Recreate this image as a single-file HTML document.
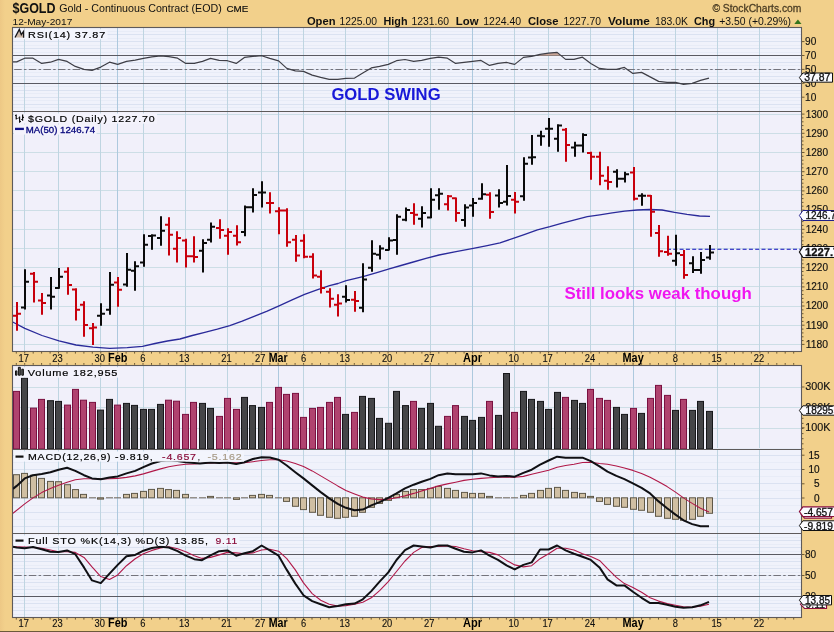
<!DOCTYPE html>
<html><head><meta charset="utf-8"><title>$GOLD</title>
<style>html,body{margin:0;padding:0;background:#F2D08B;}body{width:834px;height:632px;overflow:hidden;font-family:"Liberation Sans",sans-serif;}</style></head>
<body>
<svg width="834" height="632" viewBox="0 0 834 632" style="display:block;will-change:transform" font-family="Liberation Sans, sans-serif">
<defs><linearGradient id="lg" x1="0" x2="1" y1="0" y2="0"><stop offset="0" stop-color="#EDC885"/><stop offset="1" stop-color="#F2D08B"/></linearGradient></defs>
<rect width="834" height="632" fill="#F2D08B"/>
<rect width="5" height="632" fill="url(#lg)"/>
<rect x="0" y="631" width="834" height="1" fill="#6B5A3A"/>
<rect x="12.5" y="27.5" width="789.0" height="84.0" fill="#F0F2FB"/>
<line x1="12.5" x2="801.5" y1="107.50" y2="107.50" stroke="#E8ECF7" stroke-width="1"/>
<line x1="12.5" x2="801.5" y1="100.50" y2="100.50" stroke="#E8ECF7" stroke-width="1"/>
<line x1="12.5" x2="801.5" y1="93.50" y2="93.50" stroke="#E8ECF7" stroke-width="1"/>
<line x1="12.5" x2="801.5" y1="86.50" y2="86.50" stroke="#E8ECF7" stroke-width="1"/>
<line x1="12.5" x2="801.5" y1="79.50" y2="79.50" stroke="#E8ECF7" stroke-width="1"/>
<line x1="12.5" x2="801.5" y1="72.50" y2="72.50" stroke="#E8ECF7" stroke-width="1"/>
<line x1="12.5" x2="801.5" y1="65.50" y2="65.50" stroke="#E8ECF7" stroke-width="1"/>
<line x1="12.5" x2="801.5" y1="58.50" y2="58.50" stroke="#E8ECF7" stroke-width="1"/>
<line x1="12.5" x2="801.5" y1="52.50" y2="52.50" stroke="#E8ECF7" stroke-width="1"/>
<line x1="12.5" x2="801.5" y1="45.50" y2="45.50" stroke="#E8ECF7" stroke-width="1"/>
<line x1="12.5" x2="801.5" y1="38.50" y2="38.50" stroke="#E8ECF7" stroke-width="1"/>
<line x1="12.5" x2="801.5" y1="31.50" y2="31.50" stroke="#E8ECF7" stroke-width="1"/>
<line x1="12.5" x2="801.5" y1="104.50" y2="104.50" stroke="#DBE2F1" stroke-width="1"/>
<line x1="12.5" x2="801.5" y1="97.50" y2="97.50" stroke="#DBE2F1" stroke-width="1"/>
<line x1="12.5" x2="801.5" y1="90.50" y2="90.50" stroke="#DBE2F1" stroke-width="1"/>
<line x1="12.5" x2="801.5" y1="83.50" y2="83.50" stroke="#DBE2F1" stroke-width="1"/>
<line x1="12.5" x2="801.5" y1="76.50" y2="76.50" stroke="#DBE2F1" stroke-width="1"/>
<line x1="12.5" x2="801.5" y1="69.50" y2="69.50" stroke="#DBE2F1" stroke-width="1"/>
<line x1="12.5" x2="801.5" y1="62.50" y2="62.50" stroke="#DBE2F1" stroke-width="1"/>
<line x1="12.5" x2="801.5" y1="55.50" y2="55.50" stroke="#DBE2F1" stroke-width="1"/>
<line x1="12.5" x2="801.5" y1="48.50" y2="48.50" stroke="#DBE2F1" stroke-width="1"/>
<line x1="12.5" x2="801.5" y1="41.50" y2="41.50" stroke="#DBE2F1" stroke-width="1"/>
<line x1="12.5" x2="801.5" y1="34.50" y2="34.50" stroke="#DBE2F1" stroke-width="1"/>
<line x1="12.5" x2="801.5" y1="27.50" y2="27.50" stroke="#DBE2F1" stroke-width="1"/>
<line x1="24.5" x2="24.5" y1="27.5" y2="111.5" stroke="#BFD5E1" stroke-width="1"/>
<line x1="58.5" x2="58.5" y1="27.5" y2="111.5" stroke="#BFD5E1" stroke-width="1"/>
<line x1="100.5" x2="100.5" y1="27.5" y2="111.5" stroke="#BFD5E1" stroke-width="1"/>
<line x1="143.5" x2="143.5" y1="27.5" y2="111.5" stroke="#BFD5E1" stroke-width="1"/>
<line x1="185.5" x2="185.5" y1="27.5" y2="111.5" stroke="#BFD5E1" stroke-width="1"/>
<line x1="227.5" x2="227.5" y1="27.5" y2="111.5" stroke="#BFD5E1" stroke-width="1"/>
<line x1="261.5" x2="261.5" y1="27.5" y2="111.5" stroke="#BFD5E1" stroke-width="1"/>
<line x1="303.5" x2="303.5" y1="27.5" y2="111.5" stroke="#BFD5E1" stroke-width="1"/>
<line x1="345.5" x2="345.5" y1="27.5" y2="111.5" stroke="#BFD5E1" stroke-width="1"/>
<line x1="388.5" x2="388.5" y1="27.5" y2="111.5" stroke="#BFD5E1" stroke-width="1"/>
<line x1="430.5" x2="430.5" y1="27.5" y2="111.5" stroke="#BFD5E1" stroke-width="1"/>
<line x1="472.5" x2="472.5" y1="27.5" y2="111.5" stroke="#ADC9DE" stroke-width="1"/>
<line x1="514.5" x2="514.5" y1="27.5" y2="111.5" stroke="#BFD5E1" stroke-width="1"/>
<line x1="548.5" x2="548.5" y1="27.5" y2="111.5" stroke="#BFD5E1" stroke-width="1"/>
<line x1="590.5" x2="590.5" y1="27.5" y2="111.5" stroke="#BFD5E1" stroke-width="1"/>
<line x1="633.5" x2="633.5" y1="27.5" y2="111.5" stroke="#ADC9DE" stroke-width="1"/>
<line x1="675.5" x2="675.5" y1="27.5" y2="111.5" stroke="#BFD5E1" stroke-width="1"/>
<line x1="717.5" x2="717.5" y1="27.5" y2="111.5" stroke="#BFD5E1" stroke-width="1"/>
<line x1="759.5" x2="759.5" y1="27.5" y2="111.5" stroke="#BFD5E1" stroke-width="1"/>
<line x1="117.5" x2="117.5" y1="27.5" y2="111.5" stroke="#ADC9DE" stroke-width="1"/>
<line x1="278.5" x2="278.5" y1="27.5" y2="111.5" stroke="#ADC9DE" stroke-width="1"/>
<line x1="12.5" x2="801.5" y1="55.50" y2="55.50" stroke="#5A5A62" stroke-width="1.1"/>
<line x1="12.5" x2="801.5" y1="83.50" y2="83.50" stroke="#5A5A62" stroke-width="1.1"/>
<line x1="12.5" x2="801.5" y1="69.50" y2="69.50" stroke="#74747C" stroke-width="1" stroke-dasharray="7.5,2.3,2.5,2.3" stroke-dashoffset="12.9"/>
<polygon points="538,55.6 540.1,54.4 548.6,53.2 557.1,52.4 561,55.6" fill="#C9A596"/>
<polyline points="13.0,61.9 16.7,61.9 24.7,58.2 33.0,58.2 41.7,63.4 50.4,62.2 58.6,59.4 67.1,61.4 75.3,66.4 84.0,69.4 92.0,70.4 100.8,67.1 109.5,62.2 117.7,64.4 126.5,61.4 135.2,60.2 143.4,58.4 151.9,56.9 160.6,55.9 168.8,56.7 177.6,58.2 185.8,63.4 194.3,63.4 202.5,61.4 210.5,58.4 219.2,60.4 227.4,60.7 236.2,63.4 244.4,57.4 252.9,56.4 261.6,55.7 269.8,58.4 278.6,60.9 286.8,68.4 295.3,70.9 303.5,71.4 312.2,75.1 320.7,77.4 329.2,79.4 337.7,79.4 345.9,78.4 354.6,78.1 362.8,73.1 371.3,67.9 379.6,66.4 388.3,64.4 396.5,60.7 405.0,59.5 413.7,61.4 421.7,60.4 430.4,58.4 438.6,57.2 447.4,58.2 455.6,63.4 464.0,62.4 472.6,61.4 481.0,60.4 489.5,65.4 498.0,63.4 506.5,62.4 514.7,64.4 523.4,57.4 531.7,56.4 540.1,54.4 548.6,53.2 557.1,52.4 565.6,59.4 574.0,59.4 582.5,57.2 590.8,63.4 599.5,68.4 607.5,69.4 616.4,69.4 624.4,67.4 632.9,73.4 641.6,72.4 650.1,76.9 658.6,81.4 667.1,82.4 675.5,82.4 683.5,84.4 692.2,83.4 700.5,80.4 709.0,78.2" fill="none" stroke="#3E3E46" stroke-width="1.2" stroke-linejoin="round"/>
<rect x="12.5" y="111.5" width="789.0" height="240.0" fill="#F1F0FA"/>
<line x1="12.5" x2="801.5" y1="344.50" y2="344.50" stroke="#CDDEE6" stroke-width="1"/>
<line x1="12.5" x2="801.5" y1="325.50" y2="325.50" stroke="#CDDEE6" stroke-width="1"/>
<line x1="12.5" x2="801.5" y1="306.50" y2="306.50" stroke="#CDDEE6" stroke-width="1"/>
<line x1="12.5" x2="801.5" y1="286.50" y2="286.50" stroke="#CDDEE6" stroke-width="1"/>
<line x1="12.5" x2="801.5" y1="267.50" y2="267.50" stroke="#CDDEE6" stroke-width="1"/>
<line x1="12.5" x2="801.5" y1="248.50" y2="248.50" stroke="#CDDEE6" stroke-width="1"/>
<line x1="12.5" x2="801.5" y1="229.50" y2="229.50" stroke="#CDDEE6" stroke-width="1"/>
<line x1="12.5" x2="801.5" y1="210.50" y2="210.50" stroke="#CDDEE6" stroke-width="1"/>
<line x1="12.5" x2="801.5" y1="190.50" y2="190.50" stroke="#CDDEE6" stroke-width="1"/>
<line x1="12.5" x2="801.5" y1="171.50" y2="171.50" stroke="#CDDEE6" stroke-width="1"/>
<line x1="12.5" x2="801.5" y1="152.50" y2="152.50" stroke="#CDDEE6" stroke-width="1"/>
<line x1="12.5" x2="801.5" y1="133.50" y2="133.50" stroke="#CDDEE6" stroke-width="1"/>
<line x1="12.5" x2="801.5" y1="114.50" y2="114.50" stroke="#CDDEE6" stroke-width="1"/>
<line x1="24.5" x2="24.5" y1="111.5" y2="351.5" stroke="#BFD5E1" stroke-width="1"/>
<line x1="58.5" x2="58.5" y1="111.5" y2="351.5" stroke="#BFD5E1" stroke-width="1"/>
<line x1="100.5" x2="100.5" y1="111.5" y2="351.5" stroke="#BFD5E1" stroke-width="1"/>
<line x1="143.5" x2="143.5" y1="111.5" y2="351.5" stroke="#BFD5E1" stroke-width="1"/>
<line x1="185.5" x2="185.5" y1="111.5" y2="351.5" stroke="#BFD5E1" stroke-width="1"/>
<line x1="227.5" x2="227.5" y1="111.5" y2="351.5" stroke="#BFD5E1" stroke-width="1"/>
<line x1="261.5" x2="261.5" y1="111.5" y2="351.5" stroke="#BFD5E1" stroke-width="1"/>
<line x1="303.5" x2="303.5" y1="111.5" y2="351.5" stroke="#BFD5E1" stroke-width="1"/>
<line x1="345.5" x2="345.5" y1="111.5" y2="351.5" stroke="#BFD5E1" stroke-width="1"/>
<line x1="388.5" x2="388.5" y1="111.5" y2="351.5" stroke="#BFD5E1" stroke-width="1"/>
<line x1="430.5" x2="430.5" y1="111.5" y2="351.5" stroke="#BFD5E1" stroke-width="1"/>
<line x1="472.5" x2="472.5" y1="111.5" y2="351.5" stroke="#ADC9DE" stroke-width="1"/>
<line x1="514.5" x2="514.5" y1="111.5" y2="351.5" stroke="#BFD5E1" stroke-width="1"/>
<line x1="548.5" x2="548.5" y1="111.5" y2="351.5" stroke="#BFD5E1" stroke-width="1"/>
<line x1="590.5" x2="590.5" y1="111.5" y2="351.5" stroke="#BFD5E1" stroke-width="1"/>
<line x1="633.5" x2="633.5" y1="111.5" y2="351.5" stroke="#ADC9DE" stroke-width="1"/>
<line x1="675.5" x2="675.5" y1="111.5" y2="351.5" stroke="#BFD5E1" stroke-width="1"/>
<line x1="717.5" x2="717.5" y1="111.5" y2="351.5" stroke="#BFD5E1" stroke-width="1"/>
<line x1="759.5" x2="759.5" y1="111.5" y2="351.5" stroke="#BFD5E1" stroke-width="1"/>
<line x1="117.5" x2="117.5" y1="111.5" y2="351.5" stroke="#ADC9DE" stroke-width="1"/>
<line x1="278.5" x2="278.5" y1="111.5" y2="351.5" stroke="#ADC9DE" stroke-width="1"/>
<rect x="12.5" y="365.5" width="789.0" height="84.0" fill="#F1F0FA"/>
<line x1="12.5" x2="801.5" y1="387.50" y2="387.50" stroke="#CDDEE6" stroke-width="1"/>
<line x1="12.5" x2="801.5" y1="407.50" y2="407.50" stroke="#CDDEE6" stroke-width="1"/>
<line x1="12.5" x2="801.5" y1="428.50" y2="428.50" stroke="#CDDEE6" stroke-width="1"/>
<line x1="24.5" x2="24.5" y1="365.5" y2="449.5" stroke="#BFD5E1" stroke-width="1"/>
<line x1="58.5" x2="58.5" y1="365.5" y2="449.5" stroke="#BFD5E1" stroke-width="1"/>
<line x1="100.5" x2="100.5" y1="365.5" y2="449.5" stroke="#BFD5E1" stroke-width="1"/>
<line x1="143.5" x2="143.5" y1="365.5" y2="449.5" stroke="#BFD5E1" stroke-width="1"/>
<line x1="185.5" x2="185.5" y1="365.5" y2="449.5" stroke="#BFD5E1" stroke-width="1"/>
<line x1="227.5" x2="227.5" y1="365.5" y2="449.5" stroke="#BFD5E1" stroke-width="1"/>
<line x1="261.5" x2="261.5" y1="365.5" y2="449.5" stroke="#BFD5E1" stroke-width="1"/>
<line x1="303.5" x2="303.5" y1="365.5" y2="449.5" stroke="#BFD5E1" stroke-width="1"/>
<line x1="345.5" x2="345.5" y1="365.5" y2="449.5" stroke="#BFD5E1" stroke-width="1"/>
<line x1="388.5" x2="388.5" y1="365.5" y2="449.5" stroke="#BFD5E1" stroke-width="1"/>
<line x1="430.5" x2="430.5" y1="365.5" y2="449.5" stroke="#BFD5E1" stroke-width="1"/>
<line x1="472.5" x2="472.5" y1="365.5" y2="449.5" stroke="#ADC9DE" stroke-width="1"/>
<line x1="514.5" x2="514.5" y1="365.5" y2="449.5" stroke="#BFD5E1" stroke-width="1"/>
<line x1="548.5" x2="548.5" y1="365.5" y2="449.5" stroke="#BFD5E1" stroke-width="1"/>
<line x1="590.5" x2="590.5" y1="365.5" y2="449.5" stroke="#BFD5E1" stroke-width="1"/>
<line x1="633.5" x2="633.5" y1="365.5" y2="449.5" stroke="#ADC9DE" stroke-width="1"/>
<line x1="675.5" x2="675.5" y1="365.5" y2="449.5" stroke="#BFD5E1" stroke-width="1"/>
<line x1="717.5" x2="717.5" y1="365.5" y2="449.5" stroke="#BFD5E1" stroke-width="1"/>
<line x1="759.5" x2="759.5" y1="365.5" y2="449.5" stroke="#BFD5E1" stroke-width="1"/>
<line x1="117.5" x2="117.5" y1="365.5" y2="449.5" stroke="#ADC9DE" stroke-width="1"/>
<line x1="278.5" x2="278.5" y1="365.5" y2="449.5" stroke="#ADC9DE" stroke-width="1"/>
<rect x="12.5" y="449.5" width="789.0" height="84.0" fill="#F0F2FB"/>
<line x1="12.5" x2="801.5" y1="533.50" y2="533.50" stroke="#E8ECF7" stroke-width="1"/>
<line x1="12.5" x2="801.5" y1="519.50" y2="519.50" stroke="#E8ECF7" stroke-width="1"/>
<line x1="12.5" x2="801.5" y1="505.50" y2="505.50" stroke="#E8ECF7" stroke-width="1"/>
<line x1="12.5" x2="801.5" y1="490.50" y2="490.50" stroke="#E8ECF7" stroke-width="1"/>
<line x1="12.5" x2="801.5" y1="476.50" y2="476.50" stroke="#E8ECF7" stroke-width="1"/>
<line x1="12.5" x2="801.5" y1="462.50" y2="462.50" stroke="#E8ECF7" stroke-width="1"/>
<line x1="12.5" x2="801.5" y1="448.50" y2="448.50" stroke="#E8ECF7" stroke-width="1"/>
<line x1="12.5" x2="801.5" y1="526.50" y2="526.50" stroke="#DBE2F1" stroke-width="1"/>
<line x1="12.5" x2="801.5" y1="512.50" y2="512.50" stroke="#DBE2F1" stroke-width="1"/>
<line x1="12.5" x2="801.5" y1="498.50" y2="498.50" stroke="#DBE2F1" stroke-width="1"/>
<line x1="12.5" x2="801.5" y1="483.50" y2="483.50" stroke="#DBE2F1" stroke-width="1"/>
<line x1="12.5" x2="801.5" y1="469.50" y2="469.50" stroke="#DBE2F1" stroke-width="1"/>
<line x1="12.5" x2="801.5" y1="455.50" y2="455.50" stroke="#DBE2F1" stroke-width="1"/>
<line x1="24.5" x2="24.5" y1="449.5" y2="533.5" stroke="#BFD5E1" stroke-width="1"/>
<line x1="58.5" x2="58.5" y1="449.5" y2="533.5" stroke="#BFD5E1" stroke-width="1"/>
<line x1="100.5" x2="100.5" y1="449.5" y2="533.5" stroke="#BFD5E1" stroke-width="1"/>
<line x1="143.5" x2="143.5" y1="449.5" y2="533.5" stroke="#BFD5E1" stroke-width="1"/>
<line x1="185.5" x2="185.5" y1="449.5" y2="533.5" stroke="#BFD5E1" stroke-width="1"/>
<line x1="227.5" x2="227.5" y1="449.5" y2="533.5" stroke="#BFD5E1" stroke-width="1"/>
<line x1="261.5" x2="261.5" y1="449.5" y2="533.5" stroke="#BFD5E1" stroke-width="1"/>
<line x1="303.5" x2="303.5" y1="449.5" y2="533.5" stroke="#BFD5E1" stroke-width="1"/>
<line x1="345.5" x2="345.5" y1="449.5" y2="533.5" stroke="#BFD5E1" stroke-width="1"/>
<line x1="388.5" x2="388.5" y1="449.5" y2="533.5" stroke="#BFD5E1" stroke-width="1"/>
<line x1="430.5" x2="430.5" y1="449.5" y2="533.5" stroke="#BFD5E1" stroke-width="1"/>
<line x1="472.5" x2="472.5" y1="449.5" y2="533.5" stroke="#ADC9DE" stroke-width="1"/>
<line x1="514.5" x2="514.5" y1="449.5" y2="533.5" stroke="#BFD5E1" stroke-width="1"/>
<line x1="548.5" x2="548.5" y1="449.5" y2="533.5" stroke="#BFD5E1" stroke-width="1"/>
<line x1="590.5" x2="590.5" y1="449.5" y2="533.5" stroke="#BFD5E1" stroke-width="1"/>
<line x1="633.5" x2="633.5" y1="449.5" y2="533.5" stroke="#ADC9DE" stroke-width="1"/>
<line x1="675.5" x2="675.5" y1="449.5" y2="533.5" stroke="#BFD5E1" stroke-width="1"/>
<line x1="717.5" x2="717.5" y1="449.5" y2="533.5" stroke="#BFD5E1" stroke-width="1"/>
<line x1="759.5" x2="759.5" y1="449.5" y2="533.5" stroke="#BFD5E1" stroke-width="1"/>
<line x1="117.5" x2="117.5" y1="449.5" y2="533.5" stroke="#ADC9DE" stroke-width="1"/>
<line x1="278.5" x2="278.5" y1="449.5" y2="533.5" stroke="#ADC9DE" stroke-width="1"/>
<rect x="12.5" y="533.5" width="789.0" height="84.0" fill="#F0F2FB"/>
<line x1="12.5" x2="801.5" y1="614.50" y2="614.50" stroke="#E8ECF7" stroke-width="1"/>
<line x1="12.5" x2="801.5" y1="607.50" y2="607.50" stroke="#E8ECF7" stroke-width="1"/>
<line x1="12.5" x2="801.5" y1="600.50" y2="600.50" stroke="#E8ECF7" stroke-width="1"/>
<line x1="12.5" x2="801.5" y1="593.50" y2="593.50" stroke="#E8ECF7" stroke-width="1"/>
<line x1="12.5" x2="801.5" y1="586.50" y2="586.50" stroke="#E8ECF7" stroke-width="1"/>
<line x1="12.5" x2="801.5" y1="579.50" y2="579.50" stroke="#E8ECF7" stroke-width="1"/>
<line x1="12.5" x2="801.5" y1="572.50" y2="572.50" stroke="#E8ECF7" stroke-width="1"/>
<line x1="12.5" x2="801.5" y1="565.50" y2="565.50" stroke="#E8ECF7" stroke-width="1"/>
<line x1="12.5" x2="801.5" y1="558.50" y2="558.50" stroke="#E8ECF7" stroke-width="1"/>
<line x1="12.5" x2="801.5" y1="551.50" y2="551.50" stroke="#E8ECF7" stroke-width="1"/>
<line x1="12.5" x2="801.5" y1="544.50" y2="544.50" stroke="#E8ECF7" stroke-width="1"/>
<line x1="12.5" x2="801.5" y1="537.50" y2="537.50" stroke="#E8ECF7" stroke-width="1"/>
<line x1="12.5" x2="801.5" y1="610.50" y2="610.50" stroke="#DBE2F1" stroke-width="1"/>
<line x1="12.5" x2="801.5" y1="603.50" y2="603.50" stroke="#DBE2F1" stroke-width="1"/>
<line x1="12.5" x2="801.5" y1="596.50" y2="596.50" stroke="#DBE2F1" stroke-width="1"/>
<line x1="12.5" x2="801.5" y1="589.50" y2="589.50" stroke="#DBE2F1" stroke-width="1"/>
<line x1="12.5" x2="801.5" y1="582.50" y2="582.50" stroke="#DBE2F1" stroke-width="1"/>
<line x1="12.5" x2="801.5" y1="575.50" y2="575.50" stroke="#DBE2F1" stroke-width="1"/>
<line x1="12.5" x2="801.5" y1="568.50" y2="568.50" stroke="#DBE2F1" stroke-width="1"/>
<line x1="12.5" x2="801.5" y1="561.50" y2="561.50" stroke="#DBE2F1" stroke-width="1"/>
<line x1="12.5" x2="801.5" y1="554.50" y2="554.50" stroke="#DBE2F1" stroke-width="1"/>
<line x1="12.5" x2="801.5" y1="547.50" y2="547.50" stroke="#DBE2F1" stroke-width="1"/>
<line x1="12.5" x2="801.5" y1="540.50" y2="540.50" stroke="#DBE2F1" stroke-width="1"/>
<line x1="24.5" x2="24.5" y1="533.5" y2="617.5" stroke="#BFD5E1" stroke-width="1"/>
<line x1="58.5" x2="58.5" y1="533.5" y2="617.5" stroke="#BFD5E1" stroke-width="1"/>
<line x1="100.5" x2="100.5" y1="533.5" y2="617.5" stroke="#BFD5E1" stroke-width="1"/>
<line x1="143.5" x2="143.5" y1="533.5" y2="617.5" stroke="#BFD5E1" stroke-width="1"/>
<line x1="185.5" x2="185.5" y1="533.5" y2="617.5" stroke="#BFD5E1" stroke-width="1"/>
<line x1="227.5" x2="227.5" y1="533.5" y2="617.5" stroke="#BFD5E1" stroke-width="1"/>
<line x1="261.5" x2="261.5" y1="533.5" y2="617.5" stroke="#BFD5E1" stroke-width="1"/>
<line x1="303.5" x2="303.5" y1="533.5" y2="617.5" stroke="#BFD5E1" stroke-width="1"/>
<line x1="345.5" x2="345.5" y1="533.5" y2="617.5" stroke="#BFD5E1" stroke-width="1"/>
<line x1="388.5" x2="388.5" y1="533.5" y2="617.5" stroke="#BFD5E1" stroke-width="1"/>
<line x1="430.5" x2="430.5" y1="533.5" y2="617.5" stroke="#BFD5E1" stroke-width="1"/>
<line x1="472.5" x2="472.5" y1="533.5" y2="617.5" stroke="#ADC9DE" stroke-width="1"/>
<line x1="514.5" x2="514.5" y1="533.5" y2="617.5" stroke="#BFD5E1" stroke-width="1"/>
<line x1="548.5" x2="548.5" y1="533.5" y2="617.5" stroke="#BFD5E1" stroke-width="1"/>
<line x1="590.5" x2="590.5" y1="533.5" y2="617.5" stroke="#BFD5E1" stroke-width="1"/>
<line x1="633.5" x2="633.5" y1="533.5" y2="617.5" stroke="#ADC9DE" stroke-width="1"/>
<line x1="675.5" x2="675.5" y1="533.5" y2="617.5" stroke="#BFD5E1" stroke-width="1"/>
<line x1="717.5" x2="717.5" y1="533.5" y2="617.5" stroke="#BFD5E1" stroke-width="1"/>
<line x1="759.5" x2="759.5" y1="533.5" y2="617.5" stroke="#BFD5E1" stroke-width="1"/>
<line x1="117.5" x2="117.5" y1="533.5" y2="617.5" stroke="#ADC9DE" stroke-width="1"/>
<line x1="278.5" x2="278.5" y1="533.5" y2="617.5" stroke="#ADC9DE" stroke-width="1"/>
<line x1="12.5" x2="801.5" y1="554.50" y2="554.50" stroke="#5A5A62" stroke-width="1.1"/>
<line x1="12.5" x2="801.5" y1="596.50" y2="596.50" stroke="#5A5A62" stroke-width="1.1"/>
<line x1="12.5" x2="801.5" y1="575.50" y2="575.50" stroke="#74747C" stroke-width="1" stroke-dasharray="7.5,2.3,2.5,2.3" stroke-dashoffset="12.9"/>
<rect x="13.5" y="391.4" width="6" height="57.5" fill="#B0436F" stroke="#7A1040" stroke-width="1"/>
<rect x="21.5" y="378.2" width="6" height="70.7" fill="#454548" stroke="#17171A" stroke-width="1"/>
<rect x="30.5" y="408.1" width="6" height="40.8" fill="#B0436F" stroke="#7A1040" stroke-width="1"/>
<rect x="38.5" y="399.4" width="6" height="49.5" fill="#B0436F" stroke="#7A1040" stroke-width="1"/>
<rect x="47.5" y="400.7" width="6" height="48.2" fill="#454548" stroke="#17171A" stroke-width="1"/>
<rect x="55.5" y="401.4" width="6" height="47.5" fill="#454548" stroke="#17171A" stroke-width="1"/>
<rect x="64.5" y="405.1" width="6" height="43.8" fill="#B0436F" stroke="#7A1040" stroke-width="1"/>
<rect x="72.5" y="389.4" width="6" height="59.5" fill="#B0436F" stroke="#7A1040" stroke-width="1"/>
<rect x="80.5" y="400.2" width="6" height="48.7" fill="#B0436F" stroke="#7A1040" stroke-width="1"/>
<rect x="89.5" y="402.4" width="6" height="46.5" fill="#B0436F" stroke="#7A1040" stroke-width="1"/>
<rect x="97.5" y="410.1" width="6" height="38.8" fill="#454548" stroke="#17171A" stroke-width="1"/>
<rect x="106.5" y="399.4" width="6" height="49.5" fill="#454548" stroke="#17171A" stroke-width="1"/>
<rect x="114.5" y="405.1" width="6" height="43.8" fill="#B0436F" stroke="#7A1040" stroke-width="1"/>
<rect x="123.5" y="403.4" width="6" height="45.5" fill="#454548" stroke="#17171A" stroke-width="1"/>
<rect x="131.5" y="405.4" width="6" height="43.5" fill="#454548" stroke="#17171A" stroke-width="1"/>
<rect x="140.5" y="409.4" width="6" height="39.5" fill="#454548" stroke="#17171A" stroke-width="1"/>
<rect x="148.5" y="409.4" width="6" height="39.5" fill="#454548" stroke="#17171A" stroke-width="1"/>
<rect x="157.5" y="404.4" width="6" height="44.5" fill="#454548" stroke="#17171A" stroke-width="1"/>
<rect x="165.5" y="400.2" width="6" height="48.7" fill="#B0436F" stroke="#7A1040" stroke-width="1"/>
<rect x="173.5" y="401.2" width="6" height="47.7" fill="#B0436F" stroke="#7A1040" stroke-width="1"/>
<rect x="182.5" y="414.4" width="6" height="34.5" fill="#B0436F" stroke="#7A1040" stroke-width="1"/>
<rect x="190.5" y="402.4" width="6" height="46.5" fill="#B0436F" stroke="#7A1040" stroke-width="1"/>
<rect x="199.5" y="403.4" width="6" height="45.5" fill="#454548" stroke="#17171A" stroke-width="1"/>
<rect x="207.5" y="408.4" width="6" height="40.5" fill="#454548" stroke="#17171A" stroke-width="1"/>
<rect x="216.5" y="416.4" width="6" height="32.5" fill="#B0436F" stroke="#7A1040" stroke-width="1"/>
<rect x="224.5" y="398.4" width="6" height="50.5" fill="#B0436F" stroke="#7A1040" stroke-width="1"/>
<rect x="233.5" y="409.4" width="6" height="39.5" fill="#B0436F" stroke="#7A1040" stroke-width="1"/>
<rect x="241.5" y="397.4" width="6" height="51.5" fill="#454548" stroke="#17171A" stroke-width="1"/>
<rect x="249.5" y="405.6" width="6" height="43.3" fill="#454548" stroke="#17171A" stroke-width="1"/>
<rect x="258.5" y="407.4" width="6" height="41.5" fill="#454548" stroke="#17171A" stroke-width="1"/>
<rect x="266.5" y="402.4" width="6" height="46.5" fill="#B0436F" stroke="#7A1040" stroke-width="1"/>
<rect x="275.5" y="387.4" width="6" height="61.5" fill="#B0436F" stroke="#7A1040" stroke-width="1"/>
<rect x="283.5" y="394.4" width="6" height="54.5" fill="#B0436F" stroke="#7A1040" stroke-width="1"/>
<rect x="292.5" y="393.4" width="6" height="55.5" fill="#B0436F" stroke="#7A1040" stroke-width="1"/>
<rect x="300.5" y="417.4" width="6" height="31.5" fill="#B0436F" stroke="#7A1040" stroke-width="1"/>
<rect x="309.5" y="408.4" width="6" height="40.5" fill="#B0436F" stroke="#7A1040" stroke-width="1"/>
<rect x="317.5" y="407.4" width="6" height="41.5" fill="#B0436F" stroke="#7A1040" stroke-width="1"/>
<rect x="326.5" y="402.4" width="6" height="46.5" fill="#B0436F" stroke="#7A1040" stroke-width="1"/>
<rect x="334.5" y="397.4" width="6" height="51.5" fill="#B0436F" stroke="#7A1040" stroke-width="1"/>
<rect x="342.5" y="414.4" width="6" height="34.5" fill="#454548" stroke="#17171A" stroke-width="1"/>
<rect x="351.5" y="412.4" width="6" height="36.5" fill="#B0436F" stroke="#7A1040" stroke-width="1"/>
<rect x="359.5" y="396.4" width="6" height="52.5" fill="#454548" stroke="#17171A" stroke-width="1"/>
<rect x="368.5" y="398.4" width="6" height="50.5" fill="#454548" stroke="#17171A" stroke-width="1"/>
<rect x="376.5" y="418.4" width="6" height="30.5" fill="#454548" stroke="#17171A" stroke-width="1"/>
<rect x="385.5" y="423.3" width="6" height="25.6" fill="#454548" stroke="#17171A" stroke-width="1"/>
<rect x="393.5" y="391.4" width="6" height="57.5" fill="#454548" stroke="#17171A" stroke-width="1"/>
<rect x="402.5" y="405.6" width="6" height="43.3" fill="#454548" stroke="#17171A" stroke-width="1"/>
<rect x="410.5" y="401.4" width="6" height="47.5" fill="#B0436F" stroke="#7A1040" stroke-width="1"/>
<rect x="418.5" y="408.4" width="6" height="40.5" fill="#454548" stroke="#17171A" stroke-width="1"/>
<rect x="427.5" y="403.4" width="6" height="45.5" fill="#454548" stroke="#17171A" stroke-width="1"/>
<rect x="435.5" y="426.3" width="6" height="22.6" fill="#454548" stroke="#17171A" stroke-width="1"/>
<rect x="444.5" y="416.4" width="6" height="32.5" fill="#B0436F" stroke="#7A1040" stroke-width="1"/>
<rect x="452.5" y="405.6" width="6" height="43.3" fill="#B0436F" stroke="#7A1040" stroke-width="1"/>
<rect x="461.5" y="416.4" width="6" height="32.5" fill="#454548" stroke="#17171A" stroke-width="1"/>
<rect x="469.5" y="420.4" width="6" height="28.5" fill="#454548" stroke="#17171A" stroke-width="1"/>
<rect x="478.5" y="417.4" width="6" height="31.5" fill="#454548" stroke="#17171A" stroke-width="1"/>
<rect x="486.5" y="401.4" width="6" height="47.5" fill="#B0436F" stroke="#7A1040" stroke-width="1"/>
<rect x="495.5" y="415.4" width="6" height="33.5" fill="#454548" stroke="#17171A" stroke-width="1"/>
<rect x="503.5" y="373.5" width="6" height="75.4" fill="#454548" stroke="#17171A" stroke-width="1"/>
<rect x="511.5" y="412.4" width="6" height="36.5" fill="#B0436F" stroke="#7A1040" stroke-width="1"/>
<rect x="520.5" y="391.4" width="6" height="57.5" fill="#454548" stroke="#17171A" stroke-width="1"/>
<rect x="528.5" y="399.4" width="6" height="49.5" fill="#454548" stroke="#17171A" stroke-width="1"/>
<rect x="537.5" y="401.4" width="6" height="47.5" fill="#454548" stroke="#17171A" stroke-width="1"/>
<rect x="545.5" y="409.4" width="6" height="39.5" fill="#454548" stroke="#17171A" stroke-width="1"/>
<rect x="554.5" y="392.4" width="6" height="56.5" fill="#454548" stroke="#17171A" stroke-width="1"/>
<rect x="562.5" y="397.4" width="6" height="51.5" fill="#B0436F" stroke="#7A1040" stroke-width="1"/>
<rect x="571.5" y="400.4" width="6" height="48.5" fill="#454548" stroke="#17171A" stroke-width="1"/>
<rect x="579.5" y="403.4" width="6" height="45.5" fill="#454548" stroke="#17171A" stroke-width="1"/>
<rect x="587.5" y="389.4" width="6" height="59.5" fill="#B0436F" stroke="#7A1040" stroke-width="1"/>
<rect x="596.5" y="398.4" width="6" height="50.5" fill="#B0436F" stroke="#7A1040" stroke-width="1"/>
<rect x="604.5" y="400.4" width="6" height="48.5" fill="#B0436F" stroke="#7A1040" stroke-width="1"/>
<rect x="613.5" y="407.4" width="6" height="41.5" fill="#454548" stroke="#17171A" stroke-width="1"/>
<rect x="621.5" y="414.4" width="6" height="34.5" fill="#454548" stroke="#17171A" stroke-width="1"/>
<rect x="630.5" y="408.4" width="6" height="40.5" fill="#B0436F" stroke="#7A1040" stroke-width="1"/>
<rect x="638.5" y="413.4" width="6" height="35.5" fill="#454548" stroke="#17171A" stroke-width="1"/>
<rect x="647.5" y="398.4" width="6" height="50.5" fill="#B0436F" stroke="#7A1040" stroke-width="1"/>
<rect x="655.5" y="385.4" width="6" height="63.5" fill="#B0436F" stroke="#7A1040" stroke-width="1"/>
<rect x="664.5" y="395.4" width="6" height="53.5" fill="#B0436F" stroke="#7A1040" stroke-width="1"/>
<rect x="672.5" y="410.4" width="6" height="38.5" fill="#454548" stroke="#17171A" stroke-width="1"/>
<rect x="680.5" y="399.4" width="6" height="49.5" fill="#B0436F" stroke="#7A1040" stroke-width="1"/>
<rect x="689.5" y="410.4" width="6" height="38.5" fill="#454548" stroke="#17171A" stroke-width="1"/>
<rect x="697.5" y="401.4" width="6" height="47.5" fill="#454548" stroke="#17171A" stroke-width="1"/>
<rect x="706.5" y="411.4" width="6" height="37.5" fill="#454548" stroke="#17171A" stroke-width="1"/>
<rect x="13.5" y="474.7" width="6" height="23.1" fill="#D0BFA3" stroke="#5F5848" stroke-width="1"/>
<rect x="21.5" y="473.4" width="6" height="24.4" fill="#D0BFA3" stroke="#5F5848" stroke-width="1"/>
<rect x="30.5" y="475.2" width="6" height="22.6" fill="#D0BFA3" stroke="#5F5848" stroke-width="1"/>
<rect x="38.5" y="478.4" width="6" height="19.4" fill="#D0BFA3" stroke="#5F5848" stroke-width="1"/>
<rect x="47.5" y="481.4" width="6" height="16.4" fill="#D0BFA3" stroke="#5F5848" stroke-width="1"/>
<rect x="55.5" y="481.7" width="6" height="16.1" fill="#D0BFA3" stroke="#5F5848" stroke-width="1"/>
<rect x="64.5" y="484.7" width="6" height="13.1" fill="#D0BFA3" stroke="#5F5848" stroke-width="1"/>
<rect x="72.5" y="489.6" width="6" height="8.2" fill="#D0BFA3" stroke="#5F5848" stroke-width="1"/>
<rect x="80.5" y="494.4" width="6" height="3.4" fill="#D0BFA3" stroke="#5F5848" stroke-width="1"/>
<line x1="89.0" x2="96.0" y1="497.8" y2="497.8" stroke="#6E675A" stroke-width="1"/>
<rect x="97.5" y="497.8" width="6" height="1.3" fill="#D0BFA3" stroke="#5F5848" stroke-width="1"/>
<line x1="106.0" x2="113.0" y1="497.8" y2="497.8" stroke="#6E675A" stroke-width="1"/>
<line x1="114.0" x2="121.0" y1="497.8" y2="497.8" stroke="#6E675A" stroke-width="1"/>
<rect x="123.5" y="494.4" width="6" height="3.4" fill="#D0BFA3" stroke="#5F5848" stroke-width="1"/>
<rect x="131.5" y="493.4" width="6" height="4.4" fill="#D0BFA3" stroke="#5F5848" stroke-width="1"/>
<rect x="140.5" y="491.4" width="6" height="6.4" fill="#D0BFA3" stroke="#5F5848" stroke-width="1"/>
<rect x="148.5" y="489.4" width="6" height="8.4" fill="#D0BFA3" stroke="#5F5848" stroke-width="1"/>
<rect x="157.5" y="488.4" width="6" height="9.4" fill="#D0BFA3" stroke="#5F5848" stroke-width="1"/>
<rect x="165.5" y="489.6" width="6" height="8.2" fill="#D0BFA3" stroke="#5F5848" stroke-width="1"/>
<rect x="173.5" y="490.4" width="6" height="7.4" fill="#D0BFA3" stroke="#5F5848" stroke-width="1"/>
<rect x="182.5" y="494.4" width="6" height="3.4" fill="#D0BFA3" stroke="#5F5848" stroke-width="1"/>
<line x1="190.0" x2="197.0" y1="497.8" y2="497.8" stroke="#6E675A" stroke-width="1"/>
<line x1="199.0" x2="206.0" y1="497.8" y2="497.8" stroke="#6E675A" stroke-width="1"/>
<rect x="207.5" y="496.4" width="6" height="1.4" fill="#D0BFA3" stroke="#5F5848" stroke-width="1"/>
<line x1="216.0" x2="223.0" y1="497.8" y2="497.8" stroke="#6E675A" stroke-width="1"/>
<line x1="224.0" x2="231.0" y1="497.8" y2="497.8" stroke="#6E675A" stroke-width="1"/>
<rect x="233.5" y="497.8" width="6" height="1.6" fill="#D0BFA3" stroke="#5F5848" stroke-width="1"/>
<line x1="241.0" x2="248.0" y1="497.8" y2="497.8" stroke="#6E675A" stroke-width="1"/>
<rect x="249.5" y="495.4" width="6" height="2.4" fill="#D0BFA3" stroke="#5F5848" stroke-width="1"/>
<rect x="258.5" y="494.4" width="6" height="3.4" fill="#D0BFA3" stroke="#5F5848" stroke-width="1"/>
<rect x="266.5" y="495.4" width="6" height="2.4" fill="#D0BFA3" stroke="#5F5848" stroke-width="1"/>
<line x1="275.0" x2="282.0" y1="497.8" y2="497.8" stroke="#6E675A" stroke-width="1"/>
<rect x="283.5" y="497.8" width="6" height="3.6" fill="#D0BFA3" stroke="#5F5848" stroke-width="1"/>
<rect x="292.5" y="497.8" width="6" height="8.5" fill="#D0BFA3" stroke="#5F5848" stroke-width="1"/>
<rect x="300.5" y="497.8" width="6" height="11.8" fill="#D0BFA3" stroke="#5F5848" stroke-width="1"/>
<rect x="309.5" y="497.8" width="6" height="14.5" fill="#D0BFA3" stroke="#5F5848" stroke-width="1"/>
<rect x="317.5" y="497.8" width="6" height="17.5" fill="#D0BFA3" stroke="#5F5848" stroke-width="1"/>
<rect x="326.5" y="497.8" width="6" height="19.5" fill="#D0BFA3" stroke="#5F5848" stroke-width="1"/>
<rect x="334.5" y="497.8" width="6" height="20.5" fill="#D0BFA3" stroke="#5F5848" stroke-width="1"/>
<rect x="342.5" y="497.8" width="6" height="19.5" fill="#D0BFA3" stroke="#5F5848" stroke-width="1"/>
<rect x="351.5" y="497.8" width="6" height="18.5" fill="#D0BFA3" stroke="#5F5848" stroke-width="1"/>
<rect x="359.5" y="497.8" width="6" height="14.5" fill="#D0BFA3" stroke="#5F5848" stroke-width="1"/>
<rect x="368.5" y="497.8" width="6" height="9.5" fill="#D0BFA3" stroke="#5F5848" stroke-width="1"/>
<rect x="376.5" y="497.8" width="6" height="5.6" fill="#D0BFA3" stroke="#5F5848" stroke-width="1"/>
<rect x="385.5" y="497.8" width="6" height="2.6" fill="#D0BFA3" stroke="#5F5848" stroke-width="1"/>
<rect x="393.5" y="494.4" width="6" height="3.4" fill="#D0BFA3" stroke="#5F5848" stroke-width="1"/>
<rect x="402.5" y="491.4" width="6" height="6.4" fill="#D0BFA3" stroke="#5F5848" stroke-width="1"/>
<rect x="410.5" y="489.6" width="6" height="8.2" fill="#D0BFA3" stroke="#5F5848" stroke-width="1"/>
<rect x="418.5" y="489.6" width="6" height="8.2" fill="#D0BFA3" stroke="#5F5848" stroke-width="1"/>
<rect x="427.5" y="488.4" width="6" height="9.4" fill="#D0BFA3" stroke="#5F5848" stroke-width="1"/>
<rect x="435.5" y="486.4" width="6" height="11.4" fill="#D0BFA3" stroke="#5F5848" stroke-width="1"/>
<rect x="444.5" y="488.4" width="6" height="9.4" fill="#D0BFA3" stroke="#5F5848" stroke-width="1"/>
<rect x="452.5" y="490.4" width="6" height="7.4" fill="#D0BFA3" stroke="#5F5848" stroke-width="1"/>
<rect x="461.5" y="492.4" width="6" height="5.4" fill="#D0BFA3" stroke="#5F5848" stroke-width="1"/>
<rect x="469.5" y="493.4" width="6" height="4.4" fill="#D0BFA3" stroke="#5F5848" stroke-width="1"/>
<rect x="478.5" y="493.4" width="6" height="4.4" fill="#D0BFA3" stroke="#5F5848" stroke-width="1"/>
<rect x="486.5" y="496.4" width="6" height="1.4" fill="#D0BFA3" stroke="#5F5848" stroke-width="1"/>
<line x1="495.0" x2="502.0" y1="497.8" y2="497.8" stroke="#6E675A" stroke-width="1"/>
<line x1="503.0" x2="510.0" y1="497.8" y2="497.8" stroke="#6E675A" stroke-width="1"/>
<line x1="511.0" x2="518.0" y1="497.8" y2="497.8" stroke="#6E675A" stroke-width="1"/>
<rect x="520.5" y="495.4" width="6" height="2.4" fill="#D0BFA3" stroke="#5F5848" stroke-width="1"/>
<rect x="528.5" y="493.4" width="6" height="4.4" fill="#D0BFA3" stroke="#5F5848" stroke-width="1"/>
<rect x="537.5" y="490.4" width="6" height="7.4" fill="#D0BFA3" stroke="#5F5848" stroke-width="1"/>
<rect x="545.5" y="488.4" width="6" height="9.4" fill="#D0BFA3" stroke="#5F5848" stroke-width="1"/>
<rect x="554.5" y="487.4" width="6" height="10.4" fill="#D0BFA3" stroke="#5F5848" stroke-width="1"/>
<rect x="562.5" y="490.4" width="6" height="7.4" fill="#D0BFA3" stroke="#5F5848" stroke-width="1"/>
<rect x="571.5" y="492.4" width="6" height="5.4" fill="#D0BFA3" stroke="#5F5848" stroke-width="1"/>
<rect x="579.5" y="493.4" width="6" height="4.4" fill="#D0BFA3" stroke="#5F5848" stroke-width="1"/>
<rect x="587.5" y="496.4" width="6" height="1.4" fill="#D0BFA3" stroke="#5F5848" stroke-width="1"/>
<rect x="596.5" y="497.8" width="6" height="3.6" fill="#D0BFA3" stroke="#5F5848" stroke-width="1"/>
<rect x="604.5" y="497.8" width="6" height="6.6" fill="#D0BFA3" stroke="#5F5848" stroke-width="1"/>
<rect x="613.5" y="497.8" width="6" height="8.5" fill="#D0BFA3" stroke="#5F5848" stroke-width="1"/>
<rect x="621.5" y="497.8" width="6" height="9.5" fill="#D0BFA3" stroke="#5F5848" stroke-width="1"/>
<rect x="630.5" y="497.8" width="6" height="11.5" fill="#D0BFA3" stroke="#5F5848" stroke-width="1"/>
<rect x="638.5" y="497.8" width="6" height="12.5" fill="#D0BFA3" stroke="#5F5848" stroke-width="1"/>
<rect x="647.5" y="497.8" width="6" height="14.5" fill="#D0BFA3" stroke="#5F5848" stroke-width="1"/>
<rect x="655.5" y="497.8" width="6" height="18.5" fill="#D0BFA3" stroke="#5F5848" stroke-width="1"/>
<rect x="664.5" y="497.8" width="6" height="20.5" fill="#D0BFA3" stroke="#5F5848" stroke-width="1"/>
<rect x="672.5" y="497.8" width="6" height="21.5" fill="#D0BFA3" stroke="#5F5848" stroke-width="1"/>
<rect x="680.5" y="497.8" width="6" height="22.5" fill="#D0BFA3" stroke="#5F5848" stroke-width="1"/>
<rect x="689.5" y="497.8" width="6" height="21.5" fill="#D0BFA3" stroke="#5F5848" stroke-width="1"/>
<rect x="697.5" y="497.8" width="6" height="18.5" fill="#D0BFA3" stroke="#5F5848" stroke-width="1"/>
<rect x="706.5" y="497.8" width="6" height="15.5" fill="#D0BFA3" stroke="#5F5848" stroke-width="1"/>
<polyline points="13.0,513.3 24.7,503.9 33.0,497.9 41.7,492.6 50.4,488.4 58.6,485.2 67.1,482.2 75.3,479.7 84.0,478.7 92.0,478.7 100.8,478.9 109.5,478.7 117.7,478.4 126.5,477.4 135.2,475.9 143.4,473.9 151.9,471.4 160.6,468.9 168.8,466.7 177.6,465.2 185.8,464.2 194.3,464.0 200.0,463.5 210.5,463.0 219.2,462.7 227.4,462.7 236.2,462.7 244.4,462.7 252.9,461.7 261.6,460.5 269.8,459.7 278.6,459.7 286.8,461.0 295.3,463.5 303.5,466.4 312.2,470.9 320.7,475.9 329.2,480.9 337.7,485.9 345.9,490.4 354.6,493.9 362.8,497.1 371.3,498.9 379.6,499.6 388.3,499.1 396.5,497.7 405.0,495.9 413.7,493.4 421.7,490.9 430.4,488.4 438.6,485.9 447.4,483.9 455.6,482.2 464.0,480.4 472.6,479.2 481.0,478.4 489.5,477.7 498.0,477.2 506.5,477.2 514.7,477.2 523.4,476.4 531.7,474.2 540.1,472.2 548.6,470.2 557.1,467.2 565.6,465.5 574.0,464.2 582.5,462.5 590.8,462.2 599.5,463.5 607.5,464.2 616.4,466.0 624.4,468.0 632.9,470.4 641.6,473.4 650.1,477.2 658.6,481.7 667.1,486.6 675.5,492.1 683.5,497.9 692.2,503.4 700.5,508.3 709.0,512.1" fill="none" stroke="#B01848" stroke-width="1.1" stroke-linejoin="round"/>
<polyline points="13.0,488.9 16.7,485.9 24.7,478.4 33.0,475.2 41.7,473.9 50.4,472.2 58.6,469.7 67.1,467.7 75.3,470.9 84.0,475.2 92.0,478.4 100.8,479.2 109.5,477.4 117.7,476.4 126.5,473.4 135.2,470.9 143.4,467.2 151.9,463.5 160.6,461.0 168.8,460.2 177.6,461.0 185.8,462.2 194.3,463.0 200.0,463.5 210.5,462.5 219.2,463.0 227.4,462.5 236.2,464.0 244.4,462.2 252.9,459.0 261.6,457.2 269.8,457.5 278.6,459.7 286.8,465.5 295.3,472.2 303.5,478.4 312.2,485.4 320.7,492.1 329.2,498.4 337.7,503.9 345.9,507.8 354.6,510.3 362.8,509.6 371.3,505.4 379.6,502.1 388.3,497.9 396.5,493.4 405.0,488.4 413.7,484.7 421.7,481.7 430.4,478.9 438.6,475.2 447.4,473.4 455.6,474.2 464.0,474.2 472.6,474.2 481.0,473.4 489.5,475.4 498.0,476.4 506.5,475.9 514.7,476.7 523.4,472.9 531.7,469.7 540.1,464.7 548.6,460.5 557.1,456.7 565.6,457.7 574.0,457.7 582.5,457.7 590.8,461.2 599.5,466.4 607.5,471.7 616.4,475.9 624.4,479.2 632.9,483.4 641.6,487.9 650.1,493.4 658.6,501.4 667.1,508.3 675.5,514.6 683.5,520.3 692.2,524.1 700.5,526.3 709.0,526.3" fill="none" stroke="#101014" stroke-width="2" stroke-linejoin="round"/>
<polyline points="13.0,546.7 24.7,547.0 33.0,547.5 41.7,548.2 50.4,550.0 58.6,551.7 67.1,551.7 75.3,552.4 84.0,557.4 92.0,566.9 100.8,576.6 109.5,579.4 117.7,574.9 126.5,565.7 135.2,558.7 143.4,553.7 151.9,550.4 160.6,548.0 168.8,546.7 177.6,548.7 185.8,551.7 194.3,555.7 202.0,558.4 210.5,557.4 219.2,554.9 227.4,552.4 236.2,552.9 244.4,553.7 252.9,552.9 261.6,550.0 269.8,549.2 278.6,551.2 286.8,558.7 295.3,569.9 303.5,582.9 312.2,593.6 320.7,600.3 329.2,604.3 337.7,606.1 345.9,605.6 354.6,604.3 362.8,602.3 371.3,597.8 379.6,590.6 388.3,581.6 396.5,571.5 405.0,561.0 413.7,552.4 421.7,547.5 430.4,546.5 438.6,546.5 447.4,546.0 455.6,546.5 464.0,548.7 472.6,550.7 481.0,551.7 489.5,552.4 498.0,554.9 506.5,560.4 514.7,564.9 523.4,566.9 531.7,565.7 540.1,558.7 548.6,553.7 557.1,548.2 565.6,548.2 574.0,550.0 582.5,553.7 590.8,556.4 599.5,560.4 607.5,568.7 616.4,577.4 624.4,583.6 632.9,587.4 641.6,592.3 650.1,597.8 658.6,601.1 667.1,603.6 675.5,605.3 683.5,606.8 692.2,607.3 700.5,606.1 709.0,604.3" fill="none" stroke="#B01848" stroke-width="1.1" stroke-linejoin="round"/>
<polyline points="13.0,546.7 16.7,547.5 24.7,548.2 33.0,547.0 41.7,549.2 50.4,551.7 58.6,551.9 67.1,550.4 75.3,554.2 84.0,567.4 92.0,580.4 100.8,583.1 109.5,573.6 117.7,564.9 126.5,556.2 135.2,554.9 143.4,550.7 151.9,548.0 160.6,546.7 168.8,547.5 177.6,551.2 185.8,555.7 194.3,559.2 202.0,560.2 210.5,555.4 219.2,551.2 227.4,550.4 236.2,555.7 244.4,553.2 252.9,551.2 261.6,545.5 269.8,550.4 278.6,555.7 286.8,569.9 295.3,583.6 303.5,595.3 312.2,601.1 320.7,604.3 329.2,607.3 337.7,606.1 345.9,604.3 354.6,603.6 362.8,599.3 371.3,591.1 379.6,581.6 388.3,572.4 396.5,560.0 405.0,550.2 413.7,545.5 421.7,546.5 430.4,547.5 438.6,545.5 447.4,545.5 455.6,548.7 464.0,551.7 472.6,552.4 481.0,550.4 489.5,555.7 498.0,559.9 506.5,565.4 514.7,569.4 523.4,564.9 531.7,562.4 540.1,549.5 548.6,549.5 557.1,545.5 565.6,550.4 574.0,553.7 582.5,556.7 590.8,559.9 599.5,567.4 607.5,579.4 616.4,585.4 624.4,585.4 632.9,591.8 641.6,597.8 650.1,603.1 658.6,603.1 667.1,604.8 675.5,606.8 683.5,607.8 692.2,607.3 700.5,605.3 709.0,601.8" fill="none" stroke="#101014" stroke-width="2" stroke-linejoin="round"/>
<polyline points="12.7,322.0 24.8,328.3 42.0,335.5 59.0,340.8 76.0,345.0 93.0,347.2 109.8,348.3 127.2,347.6 142.5,346.3 155.0,343.5 167.4,341.0 179.9,339.0 192.3,335.5 204.8,332.3 217.3,329.1 229.8,325.6 242.2,321.1 254.7,316.1 267.2,311.1 279.6,305.6 292.1,299.9 304.6,294.4 317.0,289.9 329.5,285.7 338.0,283.5 346.2,280.6 363.0,276.7 376.0,272.8 389.2,268.8 401.0,265.5 413.3,262.0 426.0,258.4 439.0,255.0 456.0,251.6 473.3,248.3 486.0,245.8 500.0,242.9 512.5,238.6 524.9,234.3 537.4,229.9 549.9,226.7 562.3,223.2 574.8,219.9 587.3,216.7 599.8,214.9 612.2,212.9 624.7,211.2 637.2,210.0 649.6,209.5 662.1,210.0 674.6,212.4 687.0,214.4 699.5,216.0 710.0,216.3" fill="none" stroke="#2A2A9A" stroke-width="1.3" stroke-linejoin="round"/>
<line x1="667" x2="801" y1="249.2" y2="249.2" stroke="#0E0EBC" stroke-width="1.15" stroke-dasharray="4,2.3"/>
<path d="M17 302.0V330.8M13 315.8H17M17 313.8H21" stroke="#C8000C" stroke-width="2" fill="none"/>
<path d="M25 269.2V309.5M21 307.5H25M25 281.7H29" stroke="#0A0A0A" stroke-width="2" fill="none"/>
<path d="M34 272.0V302.5M30 273.8H34M34 281.7H38" stroke="#C8000C" stroke-width="2" fill="none"/>
<path d="M42 293.0V314.7M38 300.5H42M42 303.0H46" stroke="#C8000C" stroke-width="2" fill="none"/>
<path d="M51 277.0V309.5M47 295.5H51M51 296.7H55" stroke="#0A0A0A" stroke-width="2" fill="none"/>
<path d="M59 268.0V288.7M55 288.0H59M59 276.7H63" stroke="#0A0A0A" stroke-width="2" fill="none"/>
<path d="M68 267.2V294.7M64 271.7H68M68 285.0H72" stroke="#C8000C" stroke-width="2" fill="none"/>
<path d="M76 288.3V320.5M72 289.5H76M76 309.7H80" stroke="#C8000C" stroke-width="2" fill="none"/>
<path d="M84 301.2V336.7M80 304.7H84M84 325.0H88" stroke="#C8000C" stroke-width="2" fill="none"/>
<path d="M93 323.0V345.0M89 328.3H93M93 327.5H97" stroke="#C8000C" stroke-width="2" fill="none"/>
<path d="M101 303.3V325.8M97 315.8H101M101 313.7H105" stroke="#0A0A0A" stroke-width="2" fill="none"/>
<path d="M110 272.0V314.7M106 309.7H110M110 284.7H114" stroke="#0A0A0A" stroke-width="2" fill="none"/>
<path d="M118 277.0V306.7M114 282.5H118M118 289.7H122" stroke="#C8000C" stroke-width="2" fill="none"/>
<path d="M127 253.0V286.7M123 284.5H127M127 269.7H131" stroke="#0A0A0A" stroke-width="2" fill="none"/>
<path d="M135 261.3V290.8M131 270.8H135M135 266.3H139" stroke="#0A0A0A" stroke-width="2" fill="none"/>
<path d="M144 234.2V266.7M140 262.5H144M144 244.7H148" stroke="#0A0A0A" stroke-width="2" fill="none"/>
<path d="M152 234.2V249.7M148 236.0H152M152 235.5H156" stroke="#0A0A0A" stroke-width="2" fill="none"/>
<path d="M161 216.2V245.8M157 238.0H161M161 230.8H165" stroke="#0A0A0A" stroke-width="2" fill="none"/>
<path d="M169 217.2V255.5M165 224.7H169M169 234.7H173" stroke="#C8000C" stroke-width="2" fill="none"/>
<path d="M177 231.3V262.5M173 248.8H177M177 238.0H181" stroke="#C8000C" stroke-width="2" fill="none"/>
<path d="M186 238.7V267.5M182 240.5H186M186 256.3H190" stroke="#C8000C" stroke-width="2" fill="none"/>
<path d="M194 236.3V262.5M190 256.3H194M194 257.0H198" stroke="#C8000C" stroke-width="2" fill="none"/>
<path d="M203 239.2V272.5M199 250.8H203M203 243.0H207" stroke="#0A0A0A" stroke-width="2" fill="none"/>
<path d="M211 222.5V242.5M207 239.7H211M211 226.7H215" stroke="#0A0A0A" stroke-width="2" fill="none"/>
<path d="M220 219.2V238.7M216 228.0H220M220 230.0H224" stroke="#C8000C" stroke-width="2" fill="none"/>
<path d="M228 228.3V254.7M224 235.8H228M228 232.0H232" stroke="#C8000C" stroke-width="2" fill="none"/>
<path d="M237 225.3V245.5M233 235.8H237M237 242.2H241" stroke="#C8000C" stroke-width="2" fill="none"/>
<path d="M245 205.5V236.3M241 232.0H245M245 207.2H249" stroke="#0A0A0A" stroke-width="2" fill="none"/>
<path d="M253 188.3V212.5M249 207.2H253M253 195.0H257" stroke="#0A0A0A" stroke-width="2" fill="none"/>
<path d="M262 181.3V207.5M258 192.5H262M262 192.5H266" stroke="#0A0A0A" stroke-width="2" fill="none"/>
<path d="M270 192.2V213.5M266 203.0H270M270 203.0H274" stroke="#C8000C" stroke-width="2" fill="none"/>
<path d="M279 207.2V234.2M275 211.3H279M279 210.5H283" stroke="#C8000C" stroke-width="2" fill="none"/>
<path d="M287 208.3V246.7M283 210.5H287M287 242.2H291" stroke="#C8000C" stroke-width="2" fill="none"/>
<path d="M296 235.0V261.7M292 239.7H296M296 255.5H300" stroke="#C8000C" stroke-width="2" fill="none"/>
<path d="M304 234.2V258.3M300 240.8H304M304 256.7H308" stroke="#C8000C" stroke-width="2" fill="none"/>
<path d="M313 253.2V278.5M309 256.7H313M313 275.4H317" stroke="#C8000C" stroke-width="2" fill="none"/>
<path d="M321 270.2V293.5M317 276.8H321M321 288.0H325" stroke="#C8000C" stroke-width="2" fill="none"/>
<path d="M330 288.2V307.5M326 291.8H330M330 298.7H334" stroke="#C8000C" stroke-width="2" fill="none"/>
<path d="M338 294.2V316.6M334 304.7H338M338 303.6H342" stroke="#C8000C" stroke-width="2" fill="none"/>
<path d="M346 285.2V302.6M342 296.8H346M346 300.0H350" stroke="#0A0A0A" stroke-width="2" fill="none"/>
<path d="M355 291.0V311.8M351 299.7H355M355 300.9H359" stroke="#C8000C" stroke-width="2" fill="none"/>
<path d="M363 263.3V312.3M359 307.8H363M363 279.6H367" stroke="#0A0A0A" stroke-width="2" fill="none"/>
<path d="M372 240.3V271.7M368 267.8H372M372 253.8H376" stroke="#0A0A0A" stroke-width="2" fill="none"/>
<path d="M380 245.2V259.5M376 254.8H380M380 248.6H384" stroke="#0A0A0A" stroke-width="2" fill="none"/>
<path d="M389 237.2V250.5M385 250.0H389M389 240.4H393" stroke="#0A0A0A" stroke-width="2" fill="none"/>
<path d="M397 214.2V254.7M393 240.0H397M397 216.7H401" stroke="#0A0A0A" stroke-width="2" fill="none"/>
<path d="M406 207.5V221.3M402 219.7H406M406 210.0H410" stroke="#0A0A0A" stroke-width="2" fill="none"/>
<path d="M414 203.3V224.7M410 213.0H414M414 214.7H418" stroke="#C8000C" stroke-width="2" fill="none"/>
<path d="M422 206.3V227.5M418 218.7H422M422 213.0H426" stroke="#0A0A0A" stroke-width="2" fill="none"/>
<path d="M431 188.3V218.3M427 217.5H431M431 199.7H435" stroke="#0A0A0A" stroke-width="2" fill="none"/>
<path d="M439 188.3V209.7M435 195.3H439M439 193.8H443" stroke="#0A0A0A" stroke-width="2" fill="none"/>
<path d="M448 195.0V210.5M444 204.2H448M448 196.3H452" stroke="#C8000C" stroke-width="2" fill="none"/>
<path d="M456 197.5V221.7M452 198.3H456M456 213.0H460" stroke="#C8000C" stroke-width="2" fill="none"/>
<path d="M465 204.2V226.7M461 220.0H465M465 207.5H469" stroke="#0A0A0A" stroke-width="2" fill="none"/>
<path d="M473 198.0V216.7M469 205.5H473M473 203.0H477" stroke="#0A0A0A" stroke-width="2" fill="none"/>
<path d="M482 183.3V199.7M478 198.8H482M482 194.2H486" stroke="#0A0A0A" stroke-width="2" fill="none"/>
<path d="M490 192.2V218.7M486 194.7H490M490 212.0H494" stroke="#C8000C" stroke-width="2" fill="none"/>
<path d="M499 189.2V207.5M495 195.5H499M499 203.0H503" stroke="#0A0A0A" stroke-width="2" fill="none"/>
<path d="M507 165.0V205.5M503 201.7H507M507 196.0H511" stroke="#0A0A0A" stroke-width="2" fill="none"/>
<path d="M515 191.9V213.5M511 199.8H515M515 201.7H519" stroke="#C8000C" stroke-width="2" fill="none"/>
<path d="M524 157.2V200.8M520 196.3H524M524 163.7H528" stroke="#0A0A0A" stroke-width="2" fill="none"/>
<path d="M532 135.0V164.7M528 157.5H532M532 157.2H536" stroke="#0A0A0A" stroke-width="2" fill="none"/>
<path d="M541 130.8V145.8M537 135.8H541M541 136.3H545" stroke="#0A0A0A" stroke-width="2" fill="none"/>
<path d="M549 118.0V146.7M545 128.7H549M549 128.7H553" stroke="#0A0A0A" stroke-width="2" fill="none"/>
<path d="M558 124.2V151.7M554 138.8H558M558 125.5H562" stroke="#0A0A0A" stroke-width="2" fill="none"/>
<path d="M566 128.0V161.7M562 129.7H566M566 145.0H570" stroke="#C8000C" stroke-width="2" fill="none"/>
<path d="M575 141.7V156.7M571 147.5H575M575 145.5H579" stroke="#0A0A0A" stroke-width="2" fill="none"/>
<path d="M583 133.3V152.5M579 145.5H583M583 135.0H587" stroke="#0A0A0A" stroke-width="2" fill="none"/>
<path d="M591 151.7V179.7M587 153.0H591M591 156.7H595" stroke="#C8000C" stroke-width="2" fill="none"/>
<path d="M600 151.7V185.3M596 156.7H600M600 175.8H604" stroke="#C8000C" stroke-width="2" fill="none"/>
<path d="M608 166.3V189.7M604 180.8H608M608 182.0H612" stroke="#C8000C" stroke-width="2" fill="none"/>
<path d="M617 169.2V187.5M613 171.7H617M617 178.7H621" stroke="#0A0A0A" stroke-width="2" fill="none"/>
<path d="M625 171.7V182.5M621 178.7H625M625 174.2H629" stroke="#0A0A0A" stroke-width="2" fill="none"/>
<path d="M634 167.0V200.6M630 172.5H634M634 198.7H638" stroke="#C8000C" stroke-width="2" fill="none"/>
<path d="M642 193.3V205.8M638 195.8H642M642 195.8H646" stroke="#0A0A0A" stroke-width="2" fill="none"/>
<path d="M651 195.0V236.7M647 195.8H651M651 211.7H655" stroke="#C8000C" stroke-width="2" fill="none"/>
<path d="M659 225.0V256.7M655 233.0H659M659 251.3H663" stroke="#C8000C" stroke-width="2" fill="none"/>
<path d="M668 235.8V255.8M664 252.0H668M668 253.7H672" stroke="#C8000C" stroke-width="2" fill="none"/>
<path d="M676 234.7V265.8M672 260.8H676M676 253.3H680" stroke="#0A0A0A" stroke-width="2" fill="none"/>
<path d="M684 250.0V278.8M680 255.0H684M684 275.0H688" stroke="#C8000C" stroke-width="2" fill="none"/>
<path d="M693 256.3V273.0M689 263.3H693M693 270.0H697" stroke="#0A0A0A" stroke-width="2" fill="none"/>
<path d="M701 252.0V273.7M697 270.0H701M701 260.0H705" stroke="#0A0A0A" stroke-width="2" fill="none"/>
<path d="M710 245.0V259.7M706 257.5H710M710 252.5H714" stroke="#0A0A0A" stroke-width="2" fill="none"/>
<rect x="12.5" y="27.5" width="789.0" height="324.0" fill="none" stroke="#5E5A5A" stroke-width="1.1"/>
<line x1="12.5" x2="801.5" y1="111.5" y2="111.5" stroke="#5E5A5A" stroke-width="1.1"/>
<rect x="12.5" y="365.5" width="789.0" height="252.0" fill="none" stroke="#5E5A5A" stroke-width="1.1"/>
<line x1="12.5" x2="801.5" y1="449.5" y2="449.5" stroke="#5E5A5A" stroke-width="1.1"/>
<line x1="12.5" x2="801.5" y1="533.5" y2="533.5" stroke="#5E5A5A" stroke-width="1.1"/>
<line x1="16.3" x2="16.3" y1="351.8" y2="353.6" stroke="#6E5A34" stroke-width="1"/>
<line x1="16.3" x2="16.3" y1="363" y2="364.8" stroke="#6E5A34" stroke-width="1"/>
<line x1="16.3" x2="16.3" y1="617.8" y2="619.6" stroke="#6E5A34" stroke-width="1"/>
<line x1="24.7" x2="24.7" y1="351.8" y2="353.6" stroke="#6E5A34" stroke-width="1"/>
<line x1="24.7" x2="24.7" y1="363" y2="364.8" stroke="#6E5A34" stroke-width="1"/>
<line x1="24.7" x2="24.7" y1="617.8" y2="619.6" stroke="#6E5A34" stroke-width="1"/>
<line x1="33.2" x2="33.2" y1="351.8" y2="353.6" stroke="#6E5A34" stroke-width="1"/>
<line x1="33.2" x2="33.2" y1="363" y2="364.8" stroke="#6E5A34" stroke-width="1"/>
<line x1="33.2" x2="33.2" y1="617.8" y2="619.6" stroke="#6E5A34" stroke-width="1"/>
<line x1="41.6" x2="41.6" y1="351.8" y2="353.6" stroke="#6E5A34" stroke-width="1"/>
<line x1="41.6" x2="41.6" y1="363" y2="364.8" stroke="#6E5A34" stroke-width="1"/>
<line x1="41.6" x2="41.6" y1="617.8" y2="619.6" stroke="#6E5A34" stroke-width="1"/>
<line x1="50.1" x2="50.1" y1="351.8" y2="353.6" stroke="#6E5A34" stroke-width="1"/>
<line x1="50.1" x2="50.1" y1="363" y2="364.8" stroke="#6E5A34" stroke-width="1"/>
<line x1="50.1" x2="50.1" y1="617.8" y2="619.6" stroke="#6E5A34" stroke-width="1"/>
<line x1="58.5" x2="58.5" y1="351.8" y2="353.6" stroke="#6E5A34" stroke-width="1"/>
<line x1="58.5" x2="58.5" y1="363" y2="364.8" stroke="#6E5A34" stroke-width="1"/>
<line x1="58.5" x2="58.5" y1="617.8" y2="619.6" stroke="#6E5A34" stroke-width="1"/>
<line x1="67.0" x2="67.0" y1="351.8" y2="353.6" stroke="#6E5A34" stroke-width="1"/>
<line x1="67.0" x2="67.0" y1="363" y2="364.8" stroke="#6E5A34" stroke-width="1"/>
<line x1="67.0" x2="67.0" y1="617.8" y2="619.6" stroke="#6E5A34" stroke-width="1"/>
<line x1="75.4" x2="75.4" y1="351.8" y2="353.6" stroke="#6E5A34" stroke-width="1"/>
<line x1="75.4" x2="75.4" y1="363" y2="364.8" stroke="#6E5A34" stroke-width="1"/>
<line x1="75.4" x2="75.4" y1="617.8" y2="619.6" stroke="#6E5A34" stroke-width="1"/>
<line x1="83.9" x2="83.9" y1="351.8" y2="353.6" stroke="#6E5A34" stroke-width="1"/>
<line x1="83.9" x2="83.9" y1="363" y2="364.8" stroke="#6E5A34" stroke-width="1"/>
<line x1="83.9" x2="83.9" y1="617.8" y2="619.6" stroke="#6E5A34" stroke-width="1"/>
<line x1="92.3" x2="92.3" y1="351.8" y2="353.6" stroke="#6E5A34" stroke-width="1"/>
<line x1="92.3" x2="92.3" y1="363" y2="364.8" stroke="#6E5A34" stroke-width="1"/>
<line x1="92.3" x2="92.3" y1="617.8" y2="619.6" stroke="#6E5A34" stroke-width="1"/>
<line x1="100.8" x2="100.8" y1="351.8" y2="353.6" stroke="#6E5A34" stroke-width="1"/>
<line x1="100.8" x2="100.8" y1="363" y2="364.8" stroke="#6E5A34" stroke-width="1"/>
<line x1="100.8" x2="100.8" y1="617.8" y2="619.6" stroke="#6E5A34" stroke-width="1"/>
<line x1="109.2" x2="109.2" y1="351.8" y2="353.6" stroke="#6E5A34" stroke-width="1"/>
<line x1="109.2" x2="109.2" y1="363" y2="364.8" stroke="#6E5A34" stroke-width="1"/>
<line x1="109.2" x2="109.2" y1="617.8" y2="619.6" stroke="#6E5A34" stroke-width="1"/>
<line x1="117.7" x2="117.7" y1="351.8" y2="353.6" stroke="#6E5A34" stroke-width="1"/>
<line x1="117.7" x2="117.7" y1="363" y2="364.8" stroke="#6E5A34" stroke-width="1"/>
<line x1="117.7" x2="117.7" y1="617.8" y2="619.6" stroke="#6E5A34" stroke-width="1"/>
<line x1="126.1" x2="126.1" y1="351.8" y2="353.6" stroke="#6E5A34" stroke-width="1"/>
<line x1="126.1" x2="126.1" y1="363" y2="364.8" stroke="#6E5A34" stroke-width="1"/>
<line x1="126.1" x2="126.1" y1="617.8" y2="619.6" stroke="#6E5A34" stroke-width="1"/>
<line x1="134.6" x2="134.6" y1="351.8" y2="353.6" stroke="#6E5A34" stroke-width="1"/>
<line x1="134.6" x2="134.6" y1="363" y2="364.8" stroke="#6E5A34" stroke-width="1"/>
<line x1="134.6" x2="134.6" y1="617.8" y2="619.6" stroke="#6E5A34" stroke-width="1"/>
<line x1="143.0" x2="143.0" y1="351.8" y2="353.6" stroke="#6E5A34" stroke-width="1"/>
<line x1="143.0" x2="143.0" y1="363" y2="364.8" stroke="#6E5A34" stroke-width="1"/>
<line x1="143.0" x2="143.0" y1="617.8" y2="619.6" stroke="#6E5A34" stroke-width="1"/>
<line x1="151.5" x2="151.5" y1="351.8" y2="353.6" stroke="#6E5A34" stroke-width="1"/>
<line x1="151.5" x2="151.5" y1="363" y2="364.8" stroke="#6E5A34" stroke-width="1"/>
<line x1="151.5" x2="151.5" y1="617.8" y2="619.6" stroke="#6E5A34" stroke-width="1"/>
<line x1="159.9" x2="159.9" y1="351.8" y2="353.6" stroke="#6E5A34" stroke-width="1"/>
<line x1="159.9" x2="159.9" y1="363" y2="364.8" stroke="#6E5A34" stroke-width="1"/>
<line x1="159.9" x2="159.9" y1="617.8" y2="619.6" stroke="#6E5A34" stroke-width="1"/>
<line x1="168.4" x2="168.4" y1="351.8" y2="353.6" stroke="#6E5A34" stroke-width="1"/>
<line x1="168.4" x2="168.4" y1="363" y2="364.8" stroke="#6E5A34" stroke-width="1"/>
<line x1="168.4" x2="168.4" y1="617.8" y2="619.6" stroke="#6E5A34" stroke-width="1"/>
<line x1="176.8" x2="176.8" y1="351.8" y2="353.6" stroke="#6E5A34" stroke-width="1"/>
<line x1="176.8" x2="176.8" y1="363" y2="364.8" stroke="#6E5A34" stroke-width="1"/>
<line x1="176.8" x2="176.8" y1="617.8" y2="619.6" stroke="#6E5A34" stroke-width="1"/>
<line x1="185.3" x2="185.3" y1="351.8" y2="353.6" stroke="#6E5A34" stroke-width="1"/>
<line x1="185.3" x2="185.3" y1="363" y2="364.8" stroke="#6E5A34" stroke-width="1"/>
<line x1="185.3" x2="185.3" y1="617.8" y2="619.6" stroke="#6E5A34" stroke-width="1"/>
<line x1="193.7" x2="193.7" y1="351.8" y2="353.6" stroke="#6E5A34" stroke-width="1"/>
<line x1="193.7" x2="193.7" y1="363" y2="364.8" stroke="#6E5A34" stroke-width="1"/>
<line x1="193.7" x2="193.7" y1="617.8" y2="619.6" stroke="#6E5A34" stroke-width="1"/>
<line x1="202.2" x2="202.2" y1="351.8" y2="353.6" stroke="#6E5A34" stroke-width="1"/>
<line x1="202.2" x2="202.2" y1="363" y2="364.8" stroke="#6E5A34" stroke-width="1"/>
<line x1="202.2" x2="202.2" y1="617.8" y2="619.6" stroke="#6E5A34" stroke-width="1"/>
<line x1="210.6" x2="210.6" y1="351.8" y2="353.6" stroke="#6E5A34" stroke-width="1"/>
<line x1="210.6" x2="210.6" y1="363" y2="364.8" stroke="#6E5A34" stroke-width="1"/>
<line x1="210.6" x2="210.6" y1="617.8" y2="619.6" stroke="#6E5A34" stroke-width="1"/>
<line x1="219.1" x2="219.1" y1="351.8" y2="353.6" stroke="#6E5A34" stroke-width="1"/>
<line x1="219.1" x2="219.1" y1="363" y2="364.8" stroke="#6E5A34" stroke-width="1"/>
<line x1="219.1" x2="219.1" y1="617.8" y2="619.6" stroke="#6E5A34" stroke-width="1"/>
<line x1="227.5" x2="227.5" y1="351.8" y2="353.6" stroke="#6E5A34" stroke-width="1"/>
<line x1="227.5" x2="227.5" y1="363" y2="364.8" stroke="#6E5A34" stroke-width="1"/>
<line x1="227.5" x2="227.5" y1="617.8" y2="619.6" stroke="#6E5A34" stroke-width="1"/>
<line x1="236.0" x2="236.0" y1="351.8" y2="353.6" stroke="#6E5A34" stroke-width="1"/>
<line x1="236.0" x2="236.0" y1="363" y2="364.8" stroke="#6E5A34" stroke-width="1"/>
<line x1="236.0" x2="236.0" y1="617.8" y2="619.6" stroke="#6E5A34" stroke-width="1"/>
<line x1="244.4" x2="244.4" y1="351.8" y2="353.6" stroke="#6E5A34" stroke-width="1"/>
<line x1="244.4" x2="244.4" y1="363" y2="364.8" stroke="#6E5A34" stroke-width="1"/>
<line x1="244.4" x2="244.4" y1="617.8" y2="619.6" stroke="#6E5A34" stroke-width="1"/>
<line x1="252.9" x2="252.9" y1="351.8" y2="353.6" stroke="#6E5A34" stroke-width="1"/>
<line x1="252.9" x2="252.9" y1="363" y2="364.8" stroke="#6E5A34" stroke-width="1"/>
<line x1="252.9" x2="252.9" y1="617.8" y2="619.6" stroke="#6E5A34" stroke-width="1"/>
<line x1="261.3" x2="261.3" y1="351.8" y2="353.6" stroke="#6E5A34" stroke-width="1"/>
<line x1="261.3" x2="261.3" y1="363" y2="364.8" stroke="#6E5A34" stroke-width="1"/>
<line x1="261.3" x2="261.3" y1="617.8" y2="619.6" stroke="#6E5A34" stroke-width="1"/>
<line x1="269.8" x2="269.8" y1="351.8" y2="353.6" stroke="#6E5A34" stroke-width="1"/>
<line x1="269.8" x2="269.8" y1="363" y2="364.8" stroke="#6E5A34" stroke-width="1"/>
<line x1="269.8" x2="269.8" y1="617.8" y2="619.6" stroke="#6E5A34" stroke-width="1"/>
<line x1="278.2" x2="278.2" y1="351.8" y2="353.6" stroke="#6E5A34" stroke-width="1"/>
<line x1="278.2" x2="278.2" y1="363" y2="364.8" stroke="#6E5A34" stroke-width="1"/>
<line x1="278.2" x2="278.2" y1="617.8" y2="619.6" stroke="#6E5A34" stroke-width="1"/>
<line x1="286.7" x2="286.7" y1="351.8" y2="353.6" stroke="#6E5A34" stroke-width="1"/>
<line x1="286.7" x2="286.7" y1="363" y2="364.8" stroke="#6E5A34" stroke-width="1"/>
<line x1="286.7" x2="286.7" y1="617.8" y2="619.6" stroke="#6E5A34" stroke-width="1"/>
<line x1="295.1" x2="295.1" y1="351.8" y2="353.6" stroke="#6E5A34" stroke-width="1"/>
<line x1="295.1" x2="295.1" y1="363" y2="364.8" stroke="#6E5A34" stroke-width="1"/>
<line x1="295.1" x2="295.1" y1="617.8" y2="619.6" stroke="#6E5A34" stroke-width="1"/>
<line x1="303.6" x2="303.6" y1="351.8" y2="353.6" stroke="#6E5A34" stroke-width="1"/>
<line x1="303.6" x2="303.6" y1="363" y2="364.8" stroke="#6E5A34" stroke-width="1"/>
<line x1="303.6" x2="303.6" y1="617.8" y2="619.6" stroke="#6E5A34" stroke-width="1"/>
<line x1="312.0" x2="312.0" y1="351.8" y2="353.6" stroke="#6E5A34" stroke-width="1"/>
<line x1="312.0" x2="312.0" y1="363" y2="364.8" stroke="#6E5A34" stroke-width="1"/>
<line x1="312.0" x2="312.0" y1="617.8" y2="619.6" stroke="#6E5A34" stroke-width="1"/>
<line x1="320.5" x2="320.5" y1="351.8" y2="353.6" stroke="#6E5A34" stroke-width="1"/>
<line x1="320.5" x2="320.5" y1="363" y2="364.8" stroke="#6E5A34" stroke-width="1"/>
<line x1="320.5" x2="320.5" y1="617.8" y2="619.6" stroke="#6E5A34" stroke-width="1"/>
<line x1="328.9" x2="328.9" y1="351.8" y2="353.6" stroke="#6E5A34" stroke-width="1"/>
<line x1="328.9" x2="328.9" y1="363" y2="364.8" stroke="#6E5A34" stroke-width="1"/>
<line x1="328.9" x2="328.9" y1="617.8" y2="619.6" stroke="#6E5A34" stroke-width="1"/>
<line x1="337.4" x2="337.4" y1="351.8" y2="353.6" stroke="#6E5A34" stroke-width="1"/>
<line x1="337.4" x2="337.4" y1="363" y2="364.8" stroke="#6E5A34" stroke-width="1"/>
<line x1="337.4" x2="337.4" y1="617.8" y2="619.6" stroke="#6E5A34" stroke-width="1"/>
<line x1="345.8" x2="345.8" y1="351.8" y2="353.6" stroke="#6E5A34" stroke-width="1"/>
<line x1="345.8" x2="345.8" y1="363" y2="364.8" stroke="#6E5A34" stroke-width="1"/>
<line x1="345.8" x2="345.8" y1="617.8" y2="619.6" stroke="#6E5A34" stroke-width="1"/>
<line x1="354.3" x2="354.3" y1="351.8" y2="353.6" stroke="#6E5A34" stroke-width="1"/>
<line x1="354.3" x2="354.3" y1="363" y2="364.8" stroke="#6E5A34" stroke-width="1"/>
<line x1="354.3" x2="354.3" y1="617.8" y2="619.6" stroke="#6E5A34" stroke-width="1"/>
<line x1="362.7" x2="362.7" y1="351.8" y2="353.6" stroke="#6E5A34" stroke-width="1"/>
<line x1="362.7" x2="362.7" y1="363" y2="364.8" stroke="#6E5A34" stroke-width="1"/>
<line x1="362.7" x2="362.7" y1="617.8" y2="619.6" stroke="#6E5A34" stroke-width="1"/>
<line x1="371.2" x2="371.2" y1="351.8" y2="353.6" stroke="#6E5A34" stroke-width="1"/>
<line x1="371.2" x2="371.2" y1="363" y2="364.8" stroke="#6E5A34" stroke-width="1"/>
<line x1="371.2" x2="371.2" y1="617.8" y2="619.6" stroke="#6E5A34" stroke-width="1"/>
<line x1="379.6" x2="379.6" y1="351.8" y2="353.6" stroke="#6E5A34" stroke-width="1"/>
<line x1="379.6" x2="379.6" y1="363" y2="364.8" stroke="#6E5A34" stroke-width="1"/>
<line x1="379.6" x2="379.6" y1="617.8" y2="619.6" stroke="#6E5A34" stroke-width="1"/>
<line x1="388.1" x2="388.1" y1="351.8" y2="353.6" stroke="#6E5A34" stroke-width="1"/>
<line x1="388.1" x2="388.1" y1="363" y2="364.8" stroke="#6E5A34" stroke-width="1"/>
<line x1="388.1" x2="388.1" y1="617.8" y2="619.6" stroke="#6E5A34" stroke-width="1"/>
<line x1="396.5" x2="396.5" y1="351.8" y2="353.6" stroke="#6E5A34" stroke-width="1"/>
<line x1="396.5" x2="396.5" y1="363" y2="364.8" stroke="#6E5A34" stroke-width="1"/>
<line x1="396.5" x2="396.5" y1="617.8" y2="619.6" stroke="#6E5A34" stroke-width="1"/>
<line x1="405.0" x2="405.0" y1="351.8" y2="353.6" stroke="#6E5A34" stroke-width="1"/>
<line x1="405.0" x2="405.0" y1="363" y2="364.8" stroke="#6E5A34" stroke-width="1"/>
<line x1="405.0" x2="405.0" y1="617.8" y2="619.6" stroke="#6E5A34" stroke-width="1"/>
<line x1="413.4" x2="413.4" y1="351.8" y2="353.6" stroke="#6E5A34" stroke-width="1"/>
<line x1="413.4" x2="413.4" y1="363" y2="364.8" stroke="#6E5A34" stroke-width="1"/>
<line x1="413.4" x2="413.4" y1="617.8" y2="619.6" stroke="#6E5A34" stroke-width="1"/>
<line x1="421.9" x2="421.9" y1="351.8" y2="353.6" stroke="#6E5A34" stroke-width="1"/>
<line x1="421.9" x2="421.9" y1="363" y2="364.8" stroke="#6E5A34" stroke-width="1"/>
<line x1="421.9" x2="421.9" y1="617.8" y2="619.6" stroke="#6E5A34" stroke-width="1"/>
<line x1="430.3" x2="430.3" y1="351.8" y2="353.6" stroke="#6E5A34" stroke-width="1"/>
<line x1="430.3" x2="430.3" y1="363" y2="364.8" stroke="#6E5A34" stroke-width="1"/>
<line x1="430.3" x2="430.3" y1="617.8" y2="619.6" stroke="#6E5A34" stroke-width="1"/>
<line x1="438.8" x2="438.8" y1="351.8" y2="353.6" stroke="#6E5A34" stroke-width="1"/>
<line x1="438.8" x2="438.8" y1="363" y2="364.8" stroke="#6E5A34" stroke-width="1"/>
<line x1="438.8" x2="438.8" y1="617.8" y2="619.6" stroke="#6E5A34" stroke-width="1"/>
<line x1="447.2" x2="447.2" y1="351.8" y2="353.6" stroke="#6E5A34" stroke-width="1"/>
<line x1="447.2" x2="447.2" y1="363" y2="364.8" stroke="#6E5A34" stroke-width="1"/>
<line x1="447.2" x2="447.2" y1="617.8" y2="619.6" stroke="#6E5A34" stroke-width="1"/>
<line x1="455.7" x2="455.7" y1="351.8" y2="353.6" stroke="#6E5A34" stroke-width="1"/>
<line x1="455.7" x2="455.7" y1="363" y2="364.8" stroke="#6E5A34" stroke-width="1"/>
<line x1="455.7" x2="455.7" y1="617.8" y2="619.6" stroke="#6E5A34" stroke-width="1"/>
<line x1="464.1" x2="464.1" y1="351.8" y2="353.6" stroke="#6E5A34" stroke-width="1"/>
<line x1="464.1" x2="464.1" y1="363" y2="364.8" stroke="#6E5A34" stroke-width="1"/>
<line x1="464.1" x2="464.1" y1="617.8" y2="619.6" stroke="#6E5A34" stroke-width="1"/>
<line x1="472.6" x2="472.6" y1="351.8" y2="353.6" stroke="#6E5A34" stroke-width="1"/>
<line x1="472.6" x2="472.6" y1="363" y2="364.8" stroke="#6E5A34" stroke-width="1"/>
<line x1="472.6" x2="472.6" y1="617.8" y2="619.6" stroke="#6E5A34" stroke-width="1"/>
<line x1="481.0" x2="481.0" y1="351.8" y2="353.6" stroke="#6E5A34" stroke-width="1"/>
<line x1="481.0" x2="481.0" y1="363" y2="364.8" stroke="#6E5A34" stroke-width="1"/>
<line x1="481.0" x2="481.0" y1="617.8" y2="619.6" stroke="#6E5A34" stroke-width="1"/>
<line x1="489.5" x2="489.5" y1="351.8" y2="353.6" stroke="#6E5A34" stroke-width="1"/>
<line x1="489.5" x2="489.5" y1="363" y2="364.8" stroke="#6E5A34" stroke-width="1"/>
<line x1="489.5" x2="489.5" y1="617.8" y2="619.6" stroke="#6E5A34" stroke-width="1"/>
<line x1="497.9" x2="497.9" y1="351.8" y2="353.6" stroke="#6E5A34" stroke-width="1"/>
<line x1="497.9" x2="497.9" y1="363" y2="364.8" stroke="#6E5A34" stroke-width="1"/>
<line x1="497.9" x2="497.9" y1="617.8" y2="619.6" stroke="#6E5A34" stroke-width="1"/>
<line x1="506.4" x2="506.4" y1="351.8" y2="353.6" stroke="#6E5A34" stroke-width="1"/>
<line x1="506.4" x2="506.4" y1="363" y2="364.8" stroke="#6E5A34" stroke-width="1"/>
<line x1="506.4" x2="506.4" y1="617.8" y2="619.6" stroke="#6E5A34" stroke-width="1"/>
<line x1="514.8" x2="514.8" y1="351.8" y2="353.6" stroke="#6E5A34" stroke-width="1"/>
<line x1="514.8" x2="514.8" y1="363" y2="364.8" stroke="#6E5A34" stroke-width="1"/>
<line x1="514.8" x2="514.8" y1="617.8" y2="619.6" stroke="#6E5A34" stroke-width="1"/>
<line x1="523.3" x2="523.3" y1="351.8" y2="353.6" stroke="#6E5A34" stroke-width="1"/>
<line x1="523.3" x2="523.3" y1="363" y2="364.8" stroke="#6E5A34" stroke-width="1"/>
<line x1="523.3" x2="523.3" y1="617.8" y2="619.6" stroke="#6E5A34" stroke-width="1"/>
<line x1="531.7" x2="531.7" y1="351.8" y2="353.6" stroke="#6E5A34" stroke-width="1"/>
<line x1="531.7" x2="531.7" y1="363" y2="364.8" stroke="#6E5A34" stroke-width="1"/>
<line x1="531.7" x2="531.7" y1="617.8" y2="619.6" stroke="#6E5A34" stroke-width="1"/>
<line x1="540.2" x2="540.2" y1="351.8" y2="353.6" stroke="#6E5A34" stroke-width="1"/>
<line x1="540.2" x2="540.2" y1="363" y2="364.8" stroke="#6E5A34" stroke-width="1"/>
<line x1="540.2" x2="540.2" y1="617.8" y2="619.6" stroke="#6E5A34" stroke-width="1"/>
<line x1="548.6" x2="548.6" y1="351.8" y2="353.6" stroke="#6E5A34" stroke-width="1"/>
<line x1="548.6" x2="548.6" y1="363" y2="364.8" stroke="#6E5A34" stroke-width="1"/>
<line x1="548.6" x2="548.6" y1="617.8" y2="619.6" stroke="#6E5A34" stroke-width="1"/>
<line x1="557.1" x2="557.1" y1="351.8" y2="353.6" stroke="#6E5A34" stroke-width="1"/>
<line x1="557.1" x2="557.1" y1="363" y2="364.8" stroke="#6E5A34" stroke-width="1"/>
<line x1="557.1" x2="557.1" y1="617.8" y2="619.6" stroke="#6E5A34" stroke-width="1"/>
<line x1="565.5" x2="565.5" y1="351.8" y2="353.6" stroke="#6E5A34" stroke-width="1"/>
<line x1="565.5" x2="565.5" y1="363" y2="364.8" stroke="#6E5A34" stroke-width="1"/>
<line x1="565.5" x2="565.5" y1="617.8" y2="619.6" stroke="#6E5A34" stroke-width="1"/>
<line x1="574.0" x2="574.0" y1="351.8" y2="353.6" stroke="#6E5A34" stroke-width="1"/>
<line x1="574.0" x2="574.0" y1="363" y2="364.8" stroke="#6E5A34" stroke-width="1"/>
<line x1="574.0" x2="574.0" y1="617.8" y2="619.6" stroke="#6E5A34" stroke-width="1"/>
<line x1="582.4" x2="582.4" y1="351.8" y2="353.6" stroke="#6E5A34" stroke-width="1"/>
<line x1="582.4" x2="582.4" y1="363" y2="364.8" stroke="#6E5A34" stroke-width="1"/>
<line x1="582.4" x2="582.4" y1="617.8" y2="619.6" stroke="#6E5A34" stroke-width="1"/>
<line x1="590.9" x2="590.9" y1="351.8" y2="353.6" stroke="#6E5A34" stroke-width="1"/>
<line x1="590.9" x2="590.9" y1="363" y2="364.8" stroke="#6E5A34" stroke-width="1"/>
<line x1="590.9" x2="590.9" y1="617.8" y2="619.6" stroke="#6E5A34" stroke-width="1"/>
<line x1="599.3" x2="599.3" y1="351.8" y2="353.6" stroke="#6E5A34" stroke-width="1"/>
<line x1="599.3" x2="599.3" y1="363" y2="364.8" stroke="#6E5A34" stroke-width="1"/>
<line x1="599.3" x2="599.3" y1="617.8" y2="619.6" stroke="#6E5A34" stroke-width="1"/>
<line x1="607.8" x2="607.8" y1="351.8" y2="353.6" stroke="#6E5A34" stroke-width="1"/>
<line x1="607.8" x2="607.8" y1="363" y2="364.8" stroke="#6E5A34" stroke-width="1"/>
<line x1="607.8" x2="607.8" y1="617.8" y2="619.6" stroke="#6E5A34" stroke-width="1"/>
<line x1="616.2" x2="616.2" y1="351.8" y2="353.6" stroke="#6E5A34" stroke-width="1"/>
<line x1="616.2" x2="616.2" y1="363" y2="364.8" stroke="#6E5A34" stroke-width="1"/>
<line x1="616.2" x2="616.2" y1="617.8" y2="619.6" stroke="#6E5A34" stroke-width="1"/>
<line x1="624.7" x2="624.7" y1="351.8" y2="353.6" stroke="#6E5A34" stroke-width="1"/>
<line x1="624.7" x2="624.7" y1="363" y2="364.8" stroke="#6E5A34" stroke-width="1"/>
<line x1="624.7" x2="624.7" y1="617.8" y2="619.6" stroke="#6E5A34" stroke-width="1"/>
<line x1="633.1" x2="633.1" y1="351.8" y2="353.6" stroke="#6E5A34" stroke-width="1"/>
<line x1="633.1" x2="633.1" y1="363" y2="364.8" stroke="#6E5A34" stroke-width="1"/>
<line x1="633.1" x2="633.1" y1="617.8" y2="619.6" stroke="#6E5A34" stroke-width="1"/>
<line x1="641.6" x2="641.6" y1="351.8" y2="353.6" stroke="#6E5A34" stroke-width="1"/>
<line x1="641.6" x2="641.6" y1="363" y2="364.8" stroke="#6E5A34" stroke-width="1"/>
<line x1="641.6" x2="641.6" y1="617.8" y2="619.6" stroke="#6E5A34" stroke-width="1"/>
<line x1="650.0" x2="650.0" y1="351.8" y2="353.6" stroke="#6E5A34" stroke-width="1"/>
<line x1="650.0" x2="650.0" y1="363" y2="364.8" stroke="#6E5A34" stroke-width="1"/>
<line x1="650.0" x2="650.0" y1="617.8" y2="619.6" stroke="#6E5A34" stroke-width="1"/>
<line x1="658.5" x2="658.5" y1="351.8" y2="353.6" stroke="#6E5A34" stroke-width="1"/>
<line x1="658.5" x2="658.5" y1="363" y2="364.8" stroke="#6E5A34" stroke-width="1"/>
<line x1="658.5" x2="658.5" y1="617.8" y2="619.6" stroke="#6E5A34" stroke-width="1"/>
<line x1="666.9" x2="666.9" y1="351.8" y2="353.6" stroke="#6E5A34" stroke-width="1"/>
<line x1="666.9" x2="666.9" y1="363" y2="364.8" stroke="#6E5A34" stroke-width="1"/>
<line x1="666.9" x2="666.9" y1="617.8" y2="619.6" stroke="#6E5A34" stroke-width="1"/>
<line x1="675.4" x2="675.4" y1="351.8" y2="353.6" stroke="#6E5A34" stroke-width="1"/>
<line x1="675.4" x2="675.4" y1="363" y2="364.8" stroke="#6E5A34" stroke-width="1"/>
<line x1="675.4" x2="675.4" y1="617.8" y2="619.6" stroke="#6E5A34" stroke-width="1"/>
<line x1="683.8" x2="683.8" y1="351.8" y2="353.6" stroke="#6E5A34" stroke-width="1"/>
<line x1="683.8" x2="683.8" y1="363" y2="364.8" stroke="#6E5A34" stroke-width="1"/>
<line x1="683.8" x2="683.8" y1="617.8" y2="619.6" stroke="#6E5A34" stroke-width="1"/>
<line x1="692.3" x2="692.3" y1="351.8" y2="353.6" stroke="#6E5A34" stroke-width="1"/>
<line x1="692.3" x2="692.3" y1="363" y2="364.8" stroke="#6E5A34" stroke-width="1"/>
<line x1="692.3" x2="692.3" y1="617.8" y2="619.6" stroke="#6E5A34" stroke-width="1"/>
<line x1="700.7" x2="700.7" y1="351.8" y2="353.6" stroke="#6E5A34" stroke-width="1"/>
<line x1="700.7" x2="700.7" y1="363" y2="364.8" stroke="#6E5A34" stroke-width="1"/>
<line x1="700.7" x2="700.7" y1="617.8" y2="619.6" stroke="#6E5A34" stroke-width="1"/>
<line x1="709.2" x2="709.2" y1="351.8" y2="353.6" stroke="#6E5A34" stroke-width="1"/>
<line x1="709.2" x2="709.2" y1="363" y2="364.8" stroke="#6E5A34" stroke-width="1"/>
<line x1="709.2" x2="709.2" y1="617.8" y2="619.6" stroke="#6E5A34" stroke-width="1"/>
<line x1="717.6" x2="717.6" y1="351.8" y2="353.6" stroke="#6E5A34" stroke-width="1"/>
<line x1="717.6" x2="717.6" y1="363" y2="364.8" stroke="#6E5A34" stroke-width="1"/>
<line x1="717.6" x2="717.6" y1="617.8" y2="619.6" stroke="#6E5A34" stroke-width="1"/>
<line x1="726.1" x2="726.1" y1="351.8" y2="353.6" stroke="#6E5A34" stroke-width="1"/>
<line x1="726.1" x2="726.1" y1="363" y2="364.8" stroke="#6E5A34" stroke-width="1"/>
<line x1="726.1" x2="726.1" y1="617.8" y2="619.6" stroke="#6E5A34" stroke-width="1"/>
<line x1="734.5" x2="734.5" y1="351.8" y2="353.6" stroke="#6E5A34" stroke-width="1"/>
<line x1="734.5" x2="734.5" y1="363" y2="364.8" stroke="#6E5A34" stroke-width="1"/>
<line x1="734.5" x2="734.5" y1="617.8" y2="619.6" stroke="#6E5A34" stroke-width="1"/>
<line x1="743.0" x2="743.0" y1="351.8" y2="353.6" stroke="#6E5A34" stroke-width="1"/>
<line x1="743.0" x2="743.0" y1="363" y2="364.8" stroke="#6E5A34" stroke-width="1"/>
<line x1="743.0" x2="743.0" y1="617.8" y2="619.6" stroke="#6E5A34" stroke-width="1"/>
<line x1="751.4" x2="751.4" y1="351.8" y2="353.6" stroke="#6E5A34" stroke-width="1"/>
<line x1="751.4" x2="751.4" y1="363" y2="364.8" stroke="#6E5A34" stroke-width="1"/>
<line x1="751.4" x2="751.4" y1="617.8" y2="619.6" stroke="#6E5A34" stroke-width="1"/>
<line x1="759.9" x2="759.9" y1="351.8" y2="353.6" stroke="#6E5A34" stroke-width="1"/>
<line x1="759.9" x2="759.9" y1="363" y2="364.8" stroke="#6E5A34" stroke-width="1"/>
<line x1="759.9" x2="759.9" y1="617.8" y2="619.6" stroke="#6E5A34" stroke-width="1"/>
<line x1="768.3" x2="768.3" y1="351.8" y2="353.6" stroke="#6E5A34" stroke-width="1"/>
<line x1="768.3" x2="768.3" y1="363" y2="364.8" stroke="#6E5A34" stroke-width="1"/>
<line x1="768.3" x2="768.3" y1="617.8" y2="619.6" stroke="#6E5A34" stroke-width="1"/>
<line x1="776.8" x2="776.8" y1="351.8" y2="353.6" stroke="#6E5A34" stroke-width="1"/>
<line x1="776.8" x2="776.8" y1="363" y2="364.8" stroke="#6E5A34" stroke-width="1"/>
<line x1="776.8" x2="776.8" y1="617.8" y2="619.6" stroke="#6E5A34" stroke-width="1"/>
<line x1="785.2" x2="785.2" y1="351.8" y2="353.6" stroke="#6E5A34" stroke-width="1"/>
<line x1="785.2" x2="785.2" y1="363" y2="364.8" stroke="#6E5A34" stroke-width="1"/>
<line x1="785.2" x2="785.2" y1="617.8" y2="619.6" stroke="#6E5A34" stroke-width="1"/>
<line x1="793.7" x2="793.7" y1="351.8" y2="353.6" stroke="#6E5A34" stroke-width="1"/>
<line x1="793.7" x2="793.7" y1="363" y2="364.8" stroke="#6E5A34" stroke-width="1"/>
<line x1="793.7" x2="793.7" y1="617.8" y2="619.6" stroke="#6E5A34" stroke-width="1"/>
<line x1="117.7" x2="117.7" y1="351.8" y2="364.8" stroke="#9A8250" stroke-width="1" opacity="0.45"/>
<line x1="278.2" x2="278.2" y1="351.8" y2="364.8" stroke="#9A8250" stroke-width="1" opacity="0.45"/>
<line x1="472.6" x2="472.6" y1="351.8" y2="364.8" stroke="#9A8250" stroke-width="1" opacity="0.45"/>
<line x1="633.1" x2="633.1" y1="351.8" y2="364.8" stroke="#9A8250" stroke-width="1" opacity="0.45"/>
<line x1="802" x2="804.5" y1="344.4" y2="344.4" stroke="#6E5A34" stroke-width="1"/>
<line x1="802" x2="803.5" y1="340.6" y2="340.6" stroke="#6E5A34" stroke-width="1"/>
<line x1="802" x2="803.5" y1="336.8" y2="336.8" stroke="#6E5A34" stroke-width="1"/>
<line x1="802" x2="803.5" y1="332.9" y2="332.9" stroke="#6E5A34" stroke-width="1"/>
<line x1="802" x2="803.5" y1="329.1" y2="329.1" stroke="#6E5A34" stroke-width="1"/>
<line x1="802" x2="804.5" y1="325.2" y2="325.2" stroke="#6E5A34" stroke-width="1"/>
<line x1="802" x2="803.5" y1="321.4" y2="321.4" stroke="#6E5A34" stroke-width="1"/>
<line x1="802" x2="803.5" y1="317.6" y2="317.6" stroke="#6E5A34" stroke-width="1"/>
<line x1="802" x2="803.5" y1="313.7" y2="313.7" stroke="#6E5A34" stroke-width="1"/>
<line x1="802" x2="803.5" y1="309.9" y2="309.9" stroke="#6E5A34" stroke-width="1"/>
<line x1="802" x2="804.5" y1="306.0" y2="306.0" stroke="#6E5A34" stroke-width="1"/>
<line x1="802" x2="803.5" y1="302.2" y2="302.2" stroke="#6E5A34" stroke-width="1"/>
<line x1="802" x2="803.5" y1="298.4" y2="298.4" stroke="#6E5A34" stroke-width="1"/>
<line x1="802" x2="803.5" y1="294.5" y2="294.5" stroke="#6E5A34" stroke-width="1"/>
<line x1="802" x2="803.5" y1="290.7" y2="290.7" stroke="#6E5A34" stroke-width="1"/>
<line x1="802" x2="804.5" y1="286.9" y2="286.9" stroke="#6E5A34" stroke-width="1"/>
<line x1="802" x2="803.5" y1="283.0" y2="283.0" stroke="#6E5A34" stroke-width="1"/>
<line x1="802" x2="803.5" y1="279.2" y2="279.2" stroke="#6E5A34" stroke-width="1"/>
<line x1="802" x2="803.5" y1="275.3" y2="275.3" stroke="#6E5A34" stroke-width="1"/>
<line x1="802" x2="803.5" y1="271.5" y2="271.5" stroke="#6E5A34" stroke-width="1"/>
<line x1="802" x2="804.5" y1="267.7" y2="267.7" stroke="#6E5A34" stroke-width="1"/>
<line x1="802" x2="803.5" y1="263.8" y2="263.8" stroke="#6E5A34" stroke-width="1"/>
<line x1="802" x2="803.5" y1="260.0" y2="260.0" stroke="#6E5A34" stroke-width="1"/>
<line x1="802" x2="803.5" y1="256.1" y2="256.1" stroke="#6E5A34" stroke-width="1"/>
<line x1="802" x2="803.5" y1="252.3" y2="252.3" stroke="#6E5A34" stroke-width="1"/>
<line x1="802" x2="804.5" y1="248.5" y2="248.5" stroke="#6E5A34" stroke-width="1"/>
<line x1="802" x2="803.5" y1="244.6" y2="244.6" stroke="#6E5A34" stroke-width="1"/>
<line x1="802" x2="803.5" y1="240.8" y2="240.8" stroke="#6E5A34" stroke-width="1"/>
<line x1="802" x2="803.5" y1="236.9" y2="236.9" stroke="#6E5A34" stroke-width="1"/>
<line x1="802" x2="803.5" y1="233.1" y2="233.1" stroke="#6E5A34" stroke-width="1"/>
<line x1="802" x2="804.5" y1="229.3" y2="229.3" stroke="#6E5A34" stroke-width="1"/>
<line x1="802" x2="803.5" y1="225.4" y2="225.4" stroke="#6E5A34" stroke-width="1"/>
<line x1="802" x2="803.5" y1="221.6" y2="221.6" stroke="#6E5A34" stroke-width="1"/>
<line x1="802" x2="803.5" y1="217.8" y2="217.8" stroke="#6E5A34" stroke-width="1"/>
<line x1="802" x2="803.5" y1="213.9" y2="213.9" stroke="#6E5A34" stroke-width="1"/>
<line x1="802" x2="804.5" y1="210.1" y2="210.1" stroke="#6E5A34" stroke-width="1"/>
<line x1="802" x2="803.5" y1="206.2" y2="206.2" stroke="#6E5A34" stroke-width="1"/>
<line x1="802" x2="803.5" y1="202.4" y2="202.4" stroke="#6E5A34" stroke-width="1"/>
<line x1="802" x2="803.5" y1="198.6" y2="198.6" stroke="#6E5A34" stroke-width="1"/>
<line x1="802" x2="803.5" y1="194.7" y2="194.7" stroke="#6E5A34" stroke-width="1"/>
<line x1="802" x2="804.5" y1="190.9" y2="190.9" stroke="#6E5A34" stroke-width="1"/>
<line x1="802" x2="803.5" y1="187.0" y2="187.0" stroke="#6E5A34" stroke-width="1"/>
<line x1="802" x2="803.5" y1="183.2" y2="183.2" stroke="#6E5A34" stroke-width="1"/>
<line x1="802" x2="803.5" y1="179.4" y2="179.4" stroke="#6E5A34" stroke-width="1"/>
<line x1="802" x2="803.5" y1="175.5" y2="175.5" stroke="#6E5A34" stroke-width="1"/>
<line x1="802" x2="804.5" y1="171.7" y2="171.7" stroke="#6E5A34" stroke-width="1"/>
<line x1="802" x2="803.5" y1="167.8" y2="167.8" stroke="#6E5A34" stroke-width="1"/>
<line x1="802" x2="803.5" y1="164.0" y2="164.0" stroke="#6E5A34" stroke-width="1"/>
<line x1="802" x2="803.5" y1="160.2" y2="160.2" stroke="#6E5A34" stroke-width="1"/>
<line x1="802" x2="803.5" y1="156.3" y2="156.3" stroke="#6E5A34" stroke-width="1"/>
<line x1="802" x2="804.5" y1="152.5" y2="152.5" stroke="#6E5A34" stroke-width="1"/>
<line x1="802" x2="803.5" y1="148.7" y2="148.7" stroke="#6E5A34" stroke-width="1"/>
<line x1="802" x2="803.5" y1="144.8" y2="144.8" stroke="#6E5A34" stroke-width="1"/>
<line x1="802" x2="803.5" y1="141.0" y2="141.0" stroke="#6E5A34" stroke-width="1"/>
<line x1="802" x2="803.5" y1="137.1" y2="137.1" stroke="#6E5A34" stroke-width="1"/>
<line x1="802" x2="804.5" y1="133.3" y2="133.3" stroke="#6E5A34" stroke-width="1"/>
<line x1="802" x2="803.5" y1="129.5" y2="129.5" stroke="#6E5A34" stroke-width="1"/>
<line x1="802" x2="803.5" y1="125.6" y2="125.6" stroke="#6E5A34" stroke-width="1"/>
<line x1="802" x2="803.5" y1="121.8" y2="121.8" stroke="#6E5A34" stroke-width="1"/>
<line x1="802" x2="803.5" y1="117.9" y2="117.9" stroke="#6E5A34" stroke-width="1"/>
<line x1="802" x2="804.5" y1="114.1" y2="114.1" stroke="#6E5A34" stroke-width="1"/>
<line x1="802" x2="804.5" y1="97.2" y2="97.2" stroke="#6E5A34" stroke-width="1"/>
<line x1="802" x2="804.5" y1="83.3" y2="83.3" stroke="#6E5A34" stroke-width="1"/>
<line x1="802" x2="804.5" y1="69.4" y2="69.4" stroke="#6E5A34" stroke-width="1"/>
<line x1="802" x2="804.5" y1="55.5" y2="55.5" stroke="#6E5A34" stroke-width="1"/>
<line x1="802" x2="804.5" y1="41.6" y2="41.6" stroke="#6E5A34" stroke-width="1"/>
<line x1="802" x2="804.5" y1="387.0" y2="387.0" stroke="#6E5A34" stroke-width="1"/>
<line x1="802" x2="804.5" y1="407.4" y2="407.4" stroke="#6E5A34" stroke-width="1"/>
<line x1="802" x2="804.5" y1="427.8" y2="427.8" stroke="#6E5A34" stroke-width="1"/>
<line x1="802" x2="803.5" y1="448.9" y2="448.9" stroke="#6E5A34" stroke-width="1"/>
<line x1="802" x2="803.5" y1="443.8" y2="443.8" stroke="#6E5A34" stroke-width="1"/>
<line x1="802" x2="803.5" y1="438.7" y2="438.7" stroke="#6E5A34" stroke-width="1"/>
<line x1="802" x2="803.5" y1="433.6" y2="433.6" stroke="#6E5A34" stroke-width="1"/>
<line x1="802" x2="803.5" y1="428.5" y2="428.5" stroke="#6E5A34" stroke-width="1"/>
<line x1="802" x2="803.5" y1="423.4" y2="423.4" stroke="#6E5A34" stroke-width="1"/>
<line x1="802" x2="803.5" y1="418.3" y2="418.3" stroke="#6E5A34" stroke-width="1"/>
<line x1="802" x2="803.5" y1="413.2" y2="413.2" stroke="#6E5A34" stroke-width="1"/>
<line x1="802" x2="804.5" y1="526.5" y2="526.5" stroke="#6E5A34" stroke-width="1"/>
<line x1="802" x2="804.5" y1="512.2" y2="512.2" stroke="#6E5A34" stroke-width="1"/>
<line x1="802" x2="804.5" y1="498.0" y2="498.0" stroke="#6E5A34" stroke-width="1"/>
<line x1="802" x2="804.5" y1="483.8" y2="483.8" stroke="#6E5A34" stroke-width="1"/>
<line x1="802" x2="804.5" y1="469.5" y2="469.5" stroke="#6E5A34" stroke-width="1"/>
<line x1="802" x2="804.5" y1="455.2" y2="455.2" stroke="#6E5A34" stroke-width="1"/>
<line x1="802" x2="804.5" y1="596.5" y2="596.5" stroke="#6E5A34" stroke-width="1"/>
<line x1="802" x2="804.5" y1="575.5" y2="575.5" stroke="#6E5A34" stroke-width="1"/>
<line x1="802" x2="804.5" y1="554.5" y2="554.5" stroke="#6E5A34" stroke-width="1"/>
<text x="12.5" y="13" font-size="14.5" font-weight="bold" fill="#111" text-anchor="start" textLength="43" lengthAdjust="spacingAndGlyphs">$GOLD</text>
<text x="59.2" y="11.8" font-size="11.3" fill="#111" text-anchor="start" textLength="162.6" lengthAdjust="spacingAndGlyphs">Gold - Continuous Contract (EOD)</text>
<text x="226.5" y="11.8" font-size="9.5" fill="#111" text-anchor="start" textLength="21.8" lengthAdjust="spacingAndGlyphs" stroke="#111" stroke-width="0.2">CME</text>
<text x="12.5" y="25.3" font-size="9.4" fill="#111" text-anchor="start" textLength="59.8" lengthAdjust="spacingAndGlyphs" stroke="none">12-May-2017</text>
<text x="306.9" y="24.9" font-size="11" font-weight="bold" fill="#111" text-anchor="start" textLength="28.6" lengthAdjust="spacingAndGlyphs">Open</text>
<text x="339.6" y="24.9" font-size="10.8" fill="#111" text-anchor="start" textLength="37.4" lengthAdjust="spacingAndGlyphs">1225.00</text>
<text x="383.5" y="24.9" font-size="11" font-weight="bold" fill="#111" text-anchor="start" textLength="24" lengthAdjust="spacingAndGlyphs">High</text>
<text x="411.5" y="24.9" font-size="10.8" fill="#111" text-anchor="start" textLength="37.4" lengthAdjust="spacingAndGlyphs">1231.60</text>
<text x="455.8" y="24.9" font-size="11" font-weight="bold" fill="#111" text-anchor="start" textLength="22.7" lengthAdjust="spacingAndGlyphs">Low</text>
<text x="483.2" y="24.9" font-size="10.8" fill="#111" text-anchor="start" textLength="38" lengthAdjust="spacingAndGlyphs">1224.40</text>
<text x="528" y="24.9" font-size="11" font-weight="bold" fill="#111" text-anchor="start" textLength="30.6" lengthAdjust="spacingAndGlyphs">Close</text>
<text x="563.6" y="24.9" font-size="10.8" fill="#111" text-anchor="start" textLength="37.4" lengthAdjust="spacingAndGlyphs">1227.70</text>
<text x="607.9" y="24.9" font-size="11" font-weight="bold" fill="#111" text-anchor="start" textLength="41.9" lengthAdjust="spacingAndGlyphs">Volume</text>
<text x="654.9" y="24.9" font-size="10.8" fill="#111" text-anchor="start" textLength="33" lengthAdjust="spacingAndGlyphs">183.0K</text>
<text x="694" y="24.9" font-size="11" font-weight="bold" fill="#111" text-anchor="start" textLength="21.1" lengthAdjust="spacingAndGlyphs">Chg</text>
<text x="719.2" y="24.9" font-size="10.8" fill="#111" text-anchor="start" textLength="71.8" lengthAdjust="spacingAndGlyphs">+3.50 (+0.29%)</text>
<polygon points="794.3,24 801.5,24 797.9,19.6" fill="#35751C"/>
<text x="712.4" y="11.5" font-size="11.4" fill="#4B3D24" text-anchor="start" textLength="89" lengthAdjust="spacingAndGlyphs" stroke="#4B3D24" stroke-width="0.3">© StockCharts.com</text>
<rect x="14" y="29.3" width="93.5" height="9.900000000000002" fill="#F3F5FD"/>
<rect x="14" y="113.4" width="143" height="10.199999999999989" fill="#F4F3FC"/>
<rect x="14" y="124.4" width="82.5" height="10.199999999999989" fill="#F4F3FC"/>
<rect x="14" y="367.2" width="105.5" height="10.400000000000034" fill="#F4F3FC"/>
<rect x="14" y="451.4" width="230" height="10.200000000000045" fill="#F3F5FD"/>
<rect x="14" y="535.4" width="225.5" height="10.200000000000045" fill="#F3F5FD"/>
<path d="M15 37.5 L19.3 29.4 L21.3 34.6 L23.6 31.3 L23.6 37.5 Z" fill="#CDB8A8" stroke="none"/>
<path d="M15 37.5 L19.3 29.4 L21.3 34.6 L23.6 31.3 L23.6 37.7" fill="none" stroke="#15151A" stroke-width="1.3" stroke-linejoin="miter"/>
<text x="28" y="37.5" font-size="9.6" fill="#000" text-anchor="start" textLength="78" lengthAdjust="spacingAndGlyphs" letter-spacing="0.7" stroke="#000" stroke-width="0.18">RSI(14) 37.87</text>
<path d="M16.2 114.5V119.5M15 115.5H16.2M16.2 118.5H17.6M19.6 116.5V122.7M18.2 118H19.6M19.6 121.5H21M22.6 114.5V120.8M21.2 119.5H22.6M22.6 117.3H24" fill="none" stroke="#111" stroke-width="1.2"/>
<text x="28.1" y="121.9" font-size="9.6" fill="#000" text-anchor="start" textLength="127.3" lengthAdjust="spacingAndGlyphs" letter-spacing="0.7" stroke="#000" stroke-width="0.18">$GOLD (Daily) 1227.70</text>
<line x1="15" x2="23.9" y1="128.9" y2="128.9" stroke="#12128A" stroke-width="2.3"/>
<text x="25.8" y="132.6" font-size="9.3" fill="#06067C" text-anchor="start" textLength="69.2" lengthAdjust="spacingAndGlyphs" stroke="#06067C" stroke-width="0.3">MA(50) 1246.74</text>
<path d="M15.5 375.2v-4.3h1.4v4.3zM18.4 375.2v-7.9h1.9v7.9zM21.8 375.2v-6h1.6v6z" fill="#5A5A5A" stroke="#111" stroke-width="1"/>
<text x="27.8" y="375.7" font-size="9.6" fill="#000" text-anchor="start" textLength="90.4" lengthAdjust="spacingAndGlyphs" letter-spacing="0.7" stroke="#000" stroke-width="0.18">Volume 182,955</text>
<line x1="15.5" x2="23.5" y1="456.6" y2="456.6" stroke="#111" stroke-width="2.2"/>
<text x="28" y="459.7" font-size="9.6" fill="#000" text-anchor="start" textLength="125.4" lengthAdjust="spacingAndGlyphs" letter-spacing="0.7" stroke="#000" stroke-width="0.18">MACD(12,26,9) -9.819,</text>
<text x="162.1" y="459.7" font-size="9.6" fill="#8A0F3C" text-anchor="start" textLength="34.7" lengthAdjust="spacingAndGlyphs" letter-spacing="0.7" stroke="#8A0F3C" stroke-width="0.18">-4.657</text>
<text x="197.6" y="459.7" font-size="9.6" fill="#444" text-anchor="start" letter-spacing="0.7" stroke="#444" stroke-width="0.18">,</text>
<text x="207.5" y="459.7" font-size="9.6" fill="#A89C88" text-anchor="start" textLength="34.9" lengthAdjust="spacingAndGlyphs" letter-spacing="0.7" stroke="#A89C88" stroke-width="0.18">-5.162</text>
<line x1="15.5" x2="23.5" y1="540.6" y2="540.6" stroke="#111" stroke-width="2.2"/>
<text x="28" y="543.7" font-size="9.6" fill="#000" text-anchor="start" textLength="180.7" lengthAdjust="spacingAndGlyphs" letter-spacing="0.7" stroke="#000" stroke-width="0.18">Full STO %K(14,3) %D(3) 13.85,</text>
<text x="215.5" y="543.7" font-size="9.6" fill="#8A0F3C" text-anchor="start" textLength="22.4" lengthAdjust="spacingAndGlyphs" letter-spacing="0.7" stroke="#8A0F3C" stroke-width="0.18">9.11</text>
<text x="331.4" y="99.6" font-size="16.7" font-weight="bold" fill="#1818D8" text-anchor="start" textLength="109.2" lengthAdjust="spacingAndGlyphs">GOLD SWING</text>
<text x="564.5" y="299.3" font-size="16.8" font-weight="bold" fill="#F016F0" text-anchor="start" textLength="187.3" lengthAdjust="spacingAndGlyphs">Still looks weak though</text>
<text x="805.1" y="44.96000000000001" font-size="10" fill="#111" text-anchor="start" textLength="11.2" lengthAdjust="spacingAndGlyphs" stroke="#111" stroke-width="0.15">90</text>
<text x="805.1" y="58.88" font-size="10" fill="#111" text-anchor="start" textLength="11.2" lengthAdjust="spacingAndGlyphs" stroke="#111" stroke-width="0.15">70</text>
<text x="805.1" y="72.80000000000001" font-size="10" fill="#111" text-anchor="start" textLength="11.2" lengthAdjust="spacingAndGlyphs" stroke="#111" stroke-width="0.15">50</text>
<text x="805.1" y="86.72000000000001" font-size="10" fill="#111" text-anchor="start" textLength="11.2" lengthAdjust="spacingAndGlyphs" stroke="#111" stroke-width="0.15">30</text>
<text x="805.1" y="100.64000000000001" font-size="10" fill="#111" text-anchor="start" textLength="11.2" lengthAdjust="spacingAndGlyphs" stroke="#111" stroke-width="0.15">10</text>
<text x="805.7" y="347.84" font-size="10" fill="#111" text-anchor="start" textLength="22.3" lengthAdjust="spacingAndGlyphs" stroke="#111" stroke-width="0.15">1180</text>
<text x="805.7" y="328.645" font-size="10" fill="#111" text-anchor="start" textLength="22.3" lengthAdjust="spacingAndGlyphs" stroke="#111" stroke-width="0.15">1190</text>
<text x="805.7" y="309.44999999999993" font-size="10" fill="#111" text-anchor="start" textLength="22.3" lengthAdjust="spacingAndGlyphs" stroke="#111" stroke-width="0.15">1200</text>
<text x="805.7" y="290.255" font-size="10" fill="#111" text-anchor="start" textLength="22.3" lengthAdjust="spacingAndGlyphs" stroke="#111" stroke-width="0.15">1210</text>
<text x="805.7" y="271.05999999999995" font-size="10" fill="#111" text-anchor="start" textLength="22.3" lengthAdjust="spacingAndGlyphs" stroke="#111" stroke-width="0.15">1220</text>
<text x="805.7" y="251.865" font-size="10" fill="#111" text-anchor="start" textLength="22.3" lengthAdjust="spacingAndGlyphs" stroke="#111" stroke-width="0.15">1230</text>
<text x="805.7" y="232.67" font-size="10" fill="#111" text-anchor="start" textLength="22.3" lengthAdjust="spacingAndGlyphs" stroke="#111" stroke-width="0.15">1240</text>
<text x="805.7" y="213.475" font-size="10" fill="#111" text-anchor="start" textLength="22.3" lengthAdjust="spacingAndGlyphs" stroke="#111" stroke-width="0.15">1250</text>
<text x="805.7" y="194.28" font-size="10" fill="#111" text-anchor="start" textLength="22.3" lengthAdjust="spacingAndGlyphs" stroke="#111" stroke-width="0.15">1260</text>
<text x="805.7" y="175.085" font-size="10" fill="#111" text-anchor="start" textLength="22.3" lengthAdjust="spacingAndGlyphs" stroke="#111" stroke-width="0.15">1270</text>
<text x="805.7" y="155.89000000000001" font-size="10" fill="#111" text-anchor="start" textLength="22.3" lengthAdjust="spacingAndGlyphs" stroke="#111" stroke-width="0.15">1280</text>
<text x="805.7" y="136.695" font-size="10" fill="#111" text-anchor="start" textLength="22.3" lengthAdjust="spacingAndGlyphs" stroke="#111" stroke-width="0.15">1290</text>
<text x="805.7" y="117.5" font-size="10" fill="#111" text-anchor="start" textLength="22.3" lengthAdjust="spacingAndGlyphs" stroke="#111" stroke-width="0.15">1300</text>
<text x="805.2" y="390.4" font-size="10" fill="#111" text-anchor="start" textLength="25.2" lengthAdjust="spacingAndGlyphs" stroke="#111" stroke-width="0.15">300K</text>
<text x="805.2" y="410.79999999999995" font-size="10" fill="#111" text-anchor="start" textLength="25.2" lengthAdjust="spacingAndGlyphs" stroke="#111" stroke-width="0.15">200K</text>
<text x="805.2" y="431.2" font-size="10" fill="#111" text-anchor="start" textLength="25.2" lengthAdjust="spacingAndGlyphs" stroke="#111" stroke-width="0.15">100K</text>
<text x="819.6" y="458.85" font-size="10" fill="#111" text-anchor="end" stroke="#111" stroke-width="0.2">15</text>
<text x="819.6" y="473.1" font-size="10" fill="#111" text-anchor="end" stroke="#111" stroke-width="0.2">10</text>
<text x="819.6" y="487.35" font-size="10" fill="#111" text-anchor="end" stroke="#111" stroke-width="0.2">5</text>
<text x="819.6" y="501.6" font-size="10" fill="#111" text-anchor="end" stroke="#111" stroke-width="0.2">0</text>
<text x="805" y="557.9" font-size="10" fill="#111" text-anchor="start" textLength="11.2" lengthAdjust="spacingAndGlyphs" stroke="#111" stroke-width="0.15">80</text>
<text x="805" y="578.9" font-size="10" fill="#111" text-anchor="start" textLength="11.2" lengthAdjust="spacingAndGlyphs" stroke="#111" stroke-width="0.15">50</text>
<text x="805" y="599.9" font-size="10" fill="#111" text-anchor="start" textLength="11.2" lengthAdjust="spacingAndGlyphs" stroke="#111" stroke-width="0.15">20</text>
<polygon points="799.4,77.6 802.9,73.0 832.5,73.0 832.5,82.2 802.9,82.2" fill="#FBFBFF" stroke="#111" stroke-width="1"/>
<text x="804.3" y="81.3" font-size="10" fill="#111" text-anchor="start" textLength="26" lengthAdjust="spacingAndGlyphs" stroke="#111" stroke-width="0.3">37.87</text>
<polygon points="799.4,215.5 802.9,210.5 840,210.5 840,220.5 802.9,220.5" fill="#FBFBFF" stroke="#20208A" stroke-width="1"/>
<text x="805.4" y="219.2" font-size="10" fill="#111" text-anchor="start" stroke="#111" stroke-width="0.3">1246.74</text>
<polygon points="799.4,252.0 802.9,246.5 840,246.5 840,257.5 802.9,257.5" fill="#FBFBFF" stroke="#111" stroke-width="1.2"/>
<text x="805" y="256.2" font-size="11.2" font-weight="bold" fill="#111" text-anchor="start" stroke="#111" stroke-width="0.3">1227.70</text>
<polygon points="799.4,410.5 802.9,405.8 840,405.8 840,415.2 802.9,415.2" fill="#FBFBFF" stroke="#111" stroke-width="1"/>
<text x="805.6" y="414.2" font-size="10" fill="#111" text-anchor="start" stroke="#111" stroke-width="0.3">182955</text>
<polygon points="801,514 804.5,509.5 831.5,509.5 831.5,518.2 804.5,518.2" fill="#FBFBFF" stroke="#8A0F3C" stroke-width="1.2"/>
<polygon points="799.4,511.6 802.9,506.8 840,506.8 840,516.5 802.9,516.5" fill="#FBFBFF" stroke="#8A0F3C" stroke-width="1.2"/>
<text x="804" y="515.5" font-size="10" fill="#111" text-anchor="start" textLength="29" lengthAdjust="spacingAndGlyphs" stroke="#111" stroke-width="0.3">-4.657</text>
<polygon points="799.4,525.6 802.9,520.8 840,520.8 840,530.5 802.9,530.5" fill="#FBFBFF" stroke="#111" stroke-width="1"/>
<text x="804" y="529.5" font-size="10" fill="#111" text-anchor="start" textLength="29" lengthAdjust="spacingAndGlyphs" stroke="#111" stroke-width="0.3">-9.819</text>
<polygon points="800.5,604.3 804.5,599.5 826.5,599.5 826.5,608.5 804.5,608.5" fill="#FBFBFF" stroke="#8A0F3C" stroke-width="1.2"/>
<text x="805.5" y="607.6" font-size="10" fill="#111" text-anchor="start" textLength="19.5" lengthAdjust="spacingAndGlyphs" stroke="#111" stroke-width="0.2">9.11</text>
<polygon points="799.4,600.2 802.9,595.5 831.5,595.5 831.5,604.9 802.9,604.9" fill="#FBFBFF" stroke="#111" stroke-width="1"/>
<text x="805" y="603.8" font-size="10" fill="#111" text-anchor="start" textLength="25" lengthAdjust="spacingAndGlyphs" stroke="#111" stroke-width="0.3">13.85</text>
<text x="23.7" y="361.7" font-size="10.4" fill="#111" text-anchor="middle" textLength="10.4" lengthAdjust="spacingAndGlyphs" stroke="#111" stroke-width="0.12">17</text>
<text x="57.5" y="361.7" font-size="10.4" fill="#111" text-anchor="middle" textLength="10.4" lengthAdjust="spacingAndGlyphs" stroke="#111" stroke-width="0.12">23</text>
<text x="99.8" y="361.7" font-size="10.4" fill="#111" text-anchor="middle" textLength="10.4" lengthAdjust="spacingAndGlyphs" stroke="#111" stroke-width="0.12">30</text>
<text x="142.9" y="361.7" font-size="10.4" fill="#111" text-anchor="middle" textLength="5.2" lengthAdjust="spacingAndGlyphs" stroke="#111" stroke-width="0.12">6</text>
<text x="184.3" y="361.7" font-size="10.4" fill="#111" text-anchor="middle" textLength="10.4" lengthAdjust="spacingAndGlyphs" stroke="#111" stroke-width="0.12">13</text>
<text x="226.5" y="361.7" font-size="10.4" fill="#111" text-anchor="middle" textLength="10.4" lengthAdjust="spacingAndGlyphs" stroke="#111" stroke-width="0.12">21</text>
<text x="260.3" y="361.7" font-size="10.4" fill="#111" text-anchor="middle" textLength="10.4" lengthAdjust="spacingAndGlyphs" stroke="#111" stroke-width="0.12">27</text>
<text x="303.5" y="361.7" font-size="10.4" fill="#111" text-anchor="middle" textLength="5.2" lengthAdjust="spacingAndGlyphs" stroke="#111" stroke-width="0.12">6</text>
<text x="344.8" y="361.7" font-size="10.4" fill="#111" text-anchor="middle" textLength="10.4" lengthAdjust="spacingAndGlyphs" stroke="#111" stroke-width="0.12">13</text>
<text x="387.1" y="361.7" font-size="10.4" fill="#111" text-anchor="middle" textLength="10.4" lengthAdjust="spacingAndGlyphs" stroke="#111" stroke-width="0.12">20</text>
<text x="429.3" y="361.7" font-size="10.4" fill="#111" text-anchor="middle" textLength="10.4" lengthAdjust="spacingAndGlyphs" stroke="#111" stroke-width="0.12">27</text>
<text x="513.8" y="361.7" font-size="10.4" fill="#111" text-anchor="middle" textLength="10.4" lengthAdjust="spacingAndGlyphs" stroke="#111" stroke-width="0.12">10</text>
<text x="547.6" y="361.7" font-size="10.4" fill="#111" text-anchor="middle" textLength="10.4" lengthAdjust="spacingAndGlyphs" stroke="#111" stroke-width="0.12">17</text>
<text x="589.9" y="361.7" font-size="10.4" fill="#111" text-anchor="middle" textLength="10.4" lengthAdjust="spacingAndGlyphs" stroke="#111" stroke-width="0.12">24</text>
<text x="675.3" y="361.7" font-size="10.4" fill="#111" text-anchor="middle" textLength="5.2" lengthAdjust="spacingAndGlyphs" stroke="#111" stroke-width="0.12">8</text>
<text x="716.6" y="361.7" font-size="10.4" fill="#111" text-anchor="middle" textLength="10.4" lengthAdjust="spacingAndGlyphs" stroke="#111" stroke-width="0.12">15</text>
<text x="758.9" y="361.7" font-size="10.4" fill="#111" text-anchor="middle" textLength="10.4" lengthAdjust="spacingAndGlyphs" stroke="#111" stroke-width="0.12">22</text>
<text x="117.7" y="362.0" font-size="12" font-weight="bold" fill="#000" text-anchor="middle" textLength="19.4" lengthAdjust="spacingAndGlyphs">Feb</text>
<text x="278.2" y="362.0" font-size="12" font-weight="bold" fill="#000" text-anchor="middle" textLength="18.9" lengthAdjust="spacingAndGlyphs">Mar</text>
<text x="472.6" y="362.0" font-size="12" font-weight="bold" fill="#000" text-anchor="middle" textLength="19" lengthAdjust="spacingAndGlyphs">Apr</text>
<text x="633.1" y="362.0" font-size="12" font-weight="bold" fill="#000" text-anchor="middle" textLength="21.2" lengthAdjust="spacingAndGlyphs">May</text>
<text x="23.7" y="626.7" font-size="10.4" fill="#111" text-anchor="middle" textLength="10.4" lengthAdjust="spacingAndGlyphs" stroke="#111" stroke-width="0.12">17</text>
<text x="57.5" y="626.7" font-size="10.4" fill="#111" text-anchor="middle" textLength="10.4" lengthAdjust="spacingAndGlyphs" stroke="#111" stroke-width="0.12">23</text>
<text x="99.8" y="626.7" font-size="10.4" fill="#111" text-anchor="middle" textLength="10.4" lengthAdjust="spacingAndGlyphs" stroke="#111" stroke-width="0.12">30</text>
<text x="142.9" y="626.7" font-size="10.4" fill="#111" text-anchor="middle" textLength="5.2" lengthAdjust="spacingAndGlyphs" stroke="#111" stroke-width="0.12">6</text>
<text x="184.3" y="626.7" font-size="10.4" fill="#111" text-anchor="middle" textLength="10.4" lengthAdjust="spacingAndGlyphs" stroke="#111" stroke-width="0.12">13</text>
<text x="226.5" y="626.7" font-size="10.4" fill="#111" text-anchor="middle" textLength="10.4" lengthAdjust="spacingAndGlyphs" stroke="#111" stroke-width="0.12">21</text>
<text x="260.3" y="626.7" font-size="10.4" fill="#111" text-anchor="middle" textLength="10.4" lengthAdjust="spacingAndGlyphs" stroke="#111" stroke-width="0.12">27</text>
<text x="303.5" y="626.7" font-size="10.4" fill="#111" text-anchor="middle" textLength="5.2" lengthAdjust="spacingAndGlyphs" stroke="#111" stroke-width="0.12">6</text>
<text x="344.8" y="626.7" font-size="10.4" fill="#111" text-anchor="middle" textLength="10.4" lengthAdjust="spacingAndGlyphs" stroke="#111" stroke-width="0.12">13</text>
<text x="387.1" y="626.7" font-size="10.4" fill="#111" text-anchor="middle" textLength="10.4" lengthAdjust="spacingAndGlyphs" stroke="#111" stroke-width="0.12">20</text>
<text x="429.3" y="626.7" font-size="10.4" fill="#111" text-anchor="middle" textLength="10.4" lengthAdjust="spacingAndGlyphs" stroke="#111" stroke-width="0.12">27</text>
<text x="513.8" y="626.7" font-size="10.4" fill="#111" text-anchor="middle" textLength="10.4" lengthAdjust="spacingAndGlyphs" stroke="#111" stroke-width="0.12">10</text>
<text x="547.6" y="626.7" font-size="10.4" fill="#111" text-anchor="middle" textLength="10.4" lengthAdjust="spacingAndGlyphs" stroke="#111" stroke-width="0.12">17</text>
<text x="589.9" y="626.7" font-size="10.4" fill="#111" text-anchor="middle" textLength="10.4" lengthAdjust="spacingAndGlyphs" stroke="#111" stroke-width="0.12">24</text>
<text x="675.3" y="626.7" font-size="10.4" fill="#111" text-anchor="middle" textLength="5.2" lengthAdjust="spacingAndGlyphs" stroke="#111" stroke-width="0.12">8</text>
<text x="716.6" y="626.7" font-size="10.4" fill="#111" text-anchor="middle" textLength="10.4" lengthAdjust="spacingAndGlyphs" stroke="#111" stroke-width="0.12">15</text>
<text x="758.9" y="626.7" font-size="10.4" fill="#111" text-anchor="middle" textLength="10.4" lengthAdjust="spacingAndGlyphs" stroke="#111" stroke-width="0.12">22</text>
<text x="117.7" y="627.0" font-size="12" font-weight="bold" fill="#000" text-anchor="middle" textLength="19.4" lengthAdjust="spacingAndGlyphs">Feb</text>
<text x="278.2" y="627.0" font-size="12" font-weight="bold" fill="#000" text-anchor="middle" textLength="18.9" lengthAdjust="spacingAndGlyphs">Mar</text>
<text x="472.6" y="627.0" font-size="12" font-weight="bold" fill="#000" text-anchor="middle" textLength="19" lengthAdjust="spacingAndGlyphs">Apr</text>
<text x="633.1" y="627.0" font-size="12" font-weight="bold" fill="#000" text-anchor="middle" textLength="21.2" lengthAdjust="spacingAndGlyphs">May</text>
</svg>
</body></html>
